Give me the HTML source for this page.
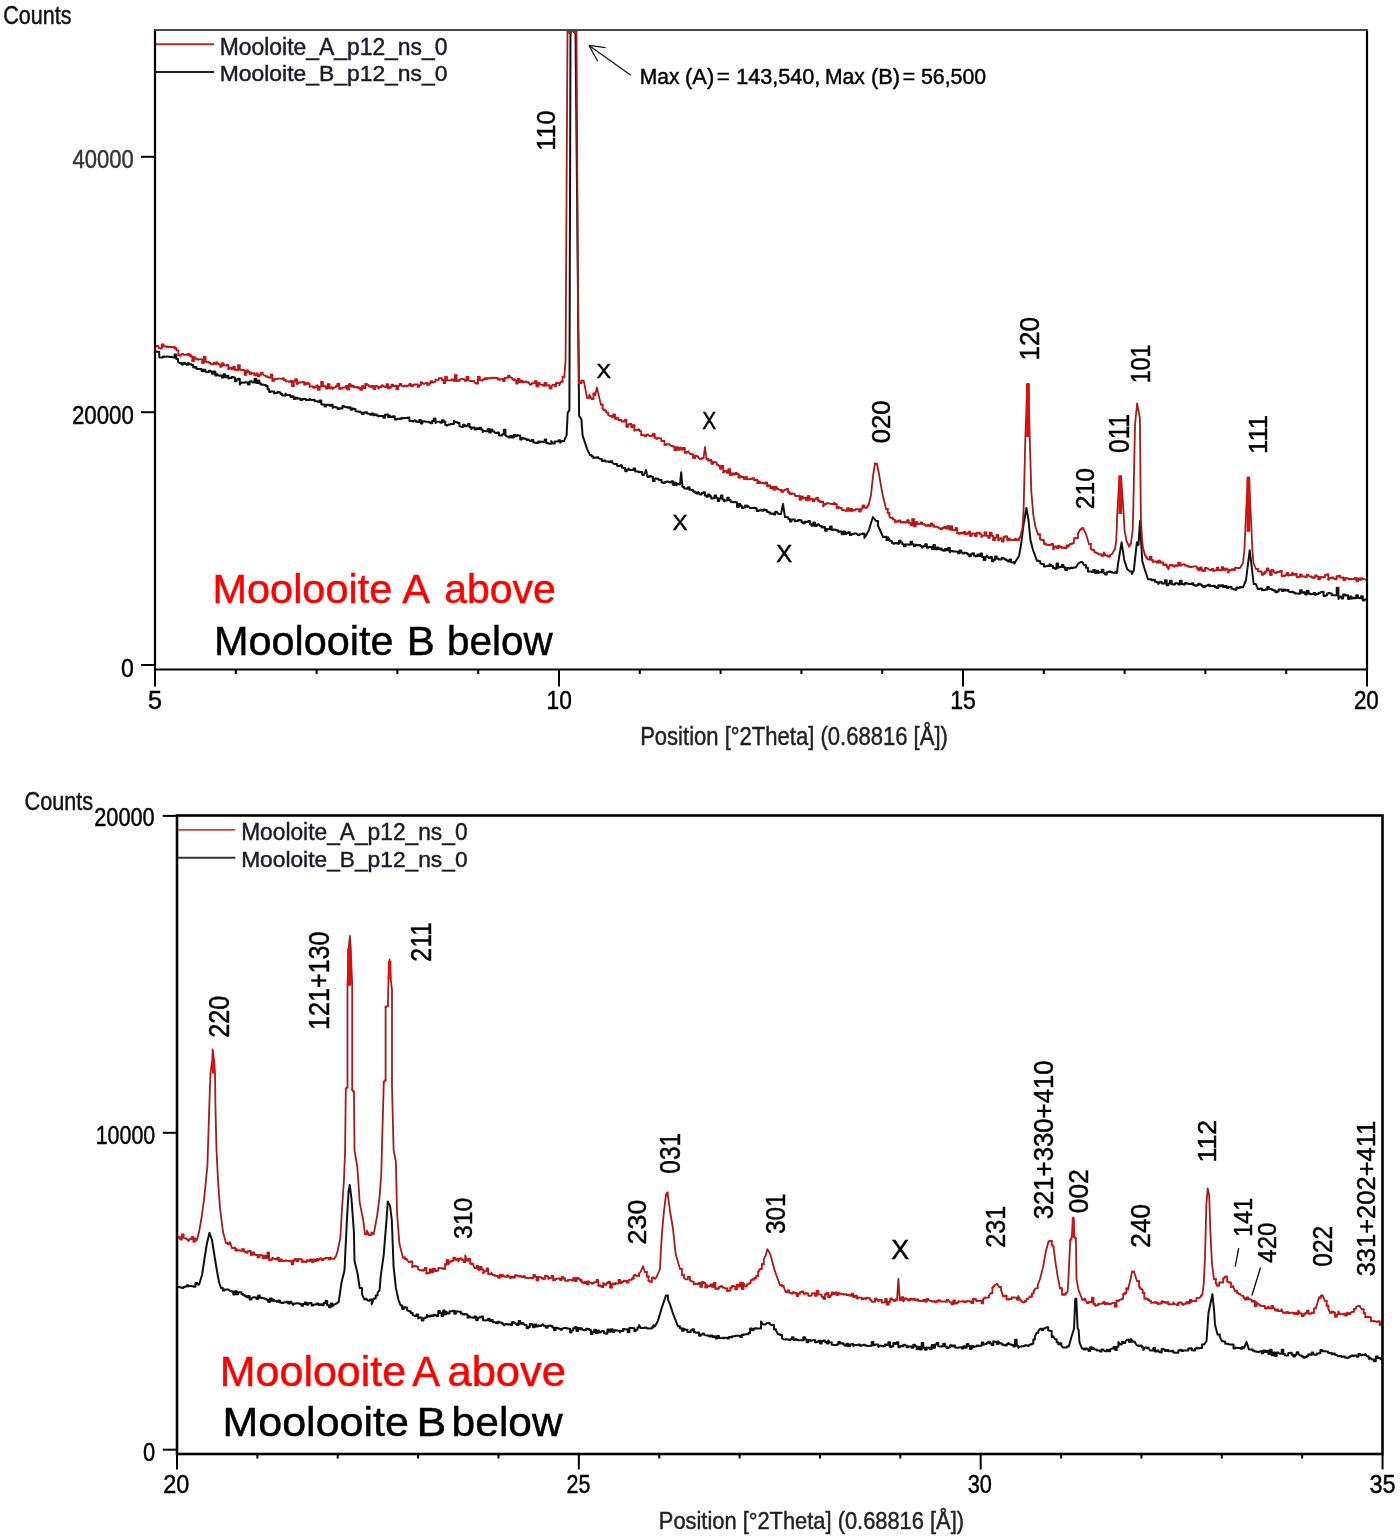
<!DOCTYPE html>
<html><head><meta charset="utf-8"><title>XRD Moolooite</title>
<style>html,body{margin:0;padding:0;background:#fff;width:1400px;height:1540px;overflow:hidden}svg{display:block}</style>
</head><body>
<svg width="1400" height="1540" viewBox="0 0 1400 1540" font-family="'Liberation Sans', Arial, Helvetica, sans-serif">
<rect width="1400" height="1540" fill="#fff"/>
<polyline points="155.0,351.0 156.9,351.7 159.2,351.7 159.2,357.5 161.4,357.4 163.0,357.4 163.0,356.5 164.7,356.5 164.7,356.8 166.3,356.8 166.3,356.4 168.0,356.4 168.0,356.7 169.6,356.7 169.6,357.0 171.3,357.0 171.3,356.6 172.9,357.4 174.6,357.4 174.6,354.4 176.3,354.4 176.3,359.1 178.0,359.1 178.0,362.0 179.7,363.1 181.4,363.1 181.4,364.5 183.1,364.5 183.1,362.7 184.8,362.7 184.8,364.1 186.6,364.1 186.6,364.8 188.3,364.8 188.3,362.8 190.0,364.3 191.6,364.3 191.6,365.1 193.2,365.1 193.2,367.6 194.8,367.6 194.8,367.0 196.4,367.0 196.4,369.1 198.0,368.9 199.8,368.9 199.8,368.9 201.6,368.9 201.6,371.2 203.5,371.2 203.5,369.8 205.3,369.8 205.3,371.5 207.1,372.3 208.7,372.3 208.7,370.8 210.4,370.8 210.4,371.6 212.0,371.6 212.0,373.8 213.7,373.8 213.7,371.4 215.3,371.4 215.3,375.6 217.0,375.6 217.0,373.8 218.6,375.7 220.2,375.7 220.2,375.5 221.9,375.5 221.9,377.4 223.5,377.4 223.5,374.3 225.1,374.3 225.1,377.2 226.7,377.2 226.7,375.8 228.4,375.8 228.4,378.5 230.0,378.0 231.6,378.0 231.6,377.1 233.3,377.1 233.3,377.5 234.9,377.5 234.9,381.2 236.5,381.2 236.5,379.5 238.1,379.5 238.1,378.7 239.8,378.7 239.8,384.5 241.4,382.6 243.0,382.6 243.0,382.7 244.7,382.7 244.7,382.2 246.3,382.2 246.3,382.4 248.0,382.4 248.0,384.6 249.6,384.6 249.6,381.4 251.3,381.4 251.3,381.0 252.9,382.6 254.5,382.6 254.5,378.7 256.2,378.7 256.2,383.0 257.8,383.0 257.8,380.5 259.4,380.5 259.4,383.4 261.0,383.4 261.0,384.8 262.7,384.8 262.7,384.5 264.3,384.9 265.9,384.9 265.9,386.0 267.6,386.0 267.6,389.2 269.2,389.2 269.2,392.0 270.8,392.0 270.8,391.4 272.4,391.4 272.4,391.4 274.1,391.4 274.1,393.6 275.7,392.9 277.3,392.9 277.3,391.9 279.0,391.9 279.0,392.6 280.6,392.6 280.6,394.0 282.2,394.0 282.2,395.4 283.8,395.4 283.8,395.4 285.5,395.4 285.5,393.6 287.1,395.1 288.7,395.1 288.7,394.9 290.4,394.9 290.4,397.1 292.0,397.1 292.0,396.3 293.7,396.3 293.7,398.9 295.3,398.9 295.3,397.7 297.0,397.7 297.0,398.8 298.6,398.6 300.4,398.6 300.4,400.1 302.3,400.1 302.3,398.9 304.1,398.9 304.1,398.9 305.9,398.9 305.9,399.9 307.7,399.9 307.7,399.9 309.6,399.9 309.6,398.9 311.4,400.0 313.0,400.0 313.0,399.7 314.7,399.7 314.7,401.3 316.3,401.3 316.3,401.2 318.0,401.2 318.0,402.0 319.6,402.0 319.6,400.6 321.3,400.6 321.3,404.3 322.9,404.6 324.5,404.6 324.5,406.6 326.2,406.6 326.2,404.7 327.8,404.7 327.8,404.8 329.4,404.8 329.4,405.7 331.0,405.7 331.0,404.8 332.7,404.8 332.7,407.9 334.3,406.9 335.9,406.9 335.9,407.4 337.6,407.4 337.6,409.0 339.2,409.0 339.2,408.3 340.8,408.3 340.8,408.6 342.4,408.6 342.4,406.0 344.1,406.0 344.1,406.7 345.7,406.9 347.3,406.9 347.3,407.7 349.0,407.7 349.0,407.3 350.6,407.3 350.6,409.7 352.2,409.7 352.2,408.5 353.8,408.5 353.8,408.9 355.5,408.9 355.5,411.1 357.1,411.4 358.7,411.4 358.7,411.7 360.4,411.7 360.4,412.4 362.0,412.4 362.0,414.0 363.7,414.0 363.7,412.6 365.3,412.6 365.3,412.3 367.0,412.3 367.0,413.4 368.6,413.7 370.2,413.7 370.2,414.7 371.9,414.7 371.9,413.6 373.5,413.6 373.5,415.3 375.1,415.3 375.1,414.6 376.7,414.6 376.7,415.4 378.4,415.4 378.4,416.4 380.0,416.0 381.6,416.0 381.6,416.0 383.3,416.0 383.3,417.8 384.9,417.8 384.9,414.8 386.5,414.8 386.5,414.5 388.1,414.5 388.1,416.9 389.8,416.9 389.8,415.5 391.4,417.1 393.0,417.1 393.0,416.3 394.7,416.3 394.7,419.4 396.3,419.4 396.3,419.1 398.0,419.1 398.0,418.8 399.6,418.8 399.6,419.1 401.3,419.1 401.3,417.7 402.9,418.3 404.5,418.3 404.5,418.0 406.2,418.0 406.2,418.0 407.8,418.0 407.8,417.5 409.4,417.5 409.4,420.9 411.0,420.9 411.0,421.1 412.7,421.1 412.7,421.6 414.3,420.6 415.9,420.6 415.9,421.7 417.6,421.7 417.6,422.1 419.2,422.1 419.2,420.1 420.8,420.1 420.8,423.6 422.4,423.6 422.4,421.3 424.1,421.3 424.1,421.2 425.7,421.7 427.3,421.7 427.3,421.8 429.0,421.8 429.0,422.4 430.6,422.4 430.6,423.2 432.2,423.2 432.2,420.9 433.8,420.9 433.8,418.6 435.5,418.6 435.5,422.9 437.1,421.7 438.7,421.7 438.7,421.8 440.4,421.8 440.4,422.7 442.0,422.7 442.0,420.3 443.7,420.3 443.7,421.7 445.3,421.7 445.3,424.9 447.0,424.9 447.0,425.7 448.6,424.6 450.4,424.6 450.4,424.1 452.1,424.1 452.1,423.9 453.9,423.9 453.9,420.8 455.7,422.3 457.6,422.3 457.6,423.1 459.5,423.1 459.5,426.0 461.4,426.9 463.0,426.9 463.0,424.7 464.7,424.7 464.7,426.2 466.3,426.2 466.3,425.7 468.0,425.7 468.0,424.0 469.6,424.0 469.6,427.2 471.3,427.2 471.3,429.1 472.9,427.4 474.5,427.4 474.5,429.4 476.2,429.4 476.2,428.3 477.8,428.3 477.8,428.9 479.4,428.9 479.4,427.8 481.0,427.8 481.0,429.4 482.7,429.4 482.7,432.0 484.3,430.9 485.9,430.9 485.9,431.2 487.6,431.2 487.6,429.1 489.2,429.1 489.2,432.5 490.8,432.5 490.8,429.5 492.4,429.5 492.4,431.3 494.1,431.3 494.1,431.9 495.7,433.1 497.3,433.1 497.3,432.5 499.0,432.5 499.0,435.4 500.6,435.4 500.6,435.4 502.2,435.4 502.2,434.2 503.8,434.2 503.8,429.7 505.5,429.7 505.5,435.4 507.1,436.6 508.7,436.6 508.7,437.6 510.4,437.6 510.4,435.9 512.0,435.9 512.0,437.5 513.7,437.5 513.7,435.1 515.3,435.1 515.3,436.2 517.0,436.2 517.0,434.9 518.6,435.4 520.2,435.4 520.2,439.5 521.9,439.5 521.9,437.9 523.5,437.9 523.5,438.5 525.1,438.5 525.1,438.9 526.7,438.9 526.7,440.1 528.4,440.1 528.4,439.5 530.0,441.1 531.6,441.1 531.6,440.1 533.3,440.1 533.3,442.5 534.9,442.5 534.9,442.8 536.5,442.8 536.5,443.1 538.1,443.1 538.1,441.4 539.8,441.4 539.8,442.4 541.4,441.7 543.0,441.7 543.0,442.0 544.7,442.0 544.7,439.5 546.3,439.5 546.3,443.1 548.0,443.1 548.0,443.5 549.6,443.5 549.6,443.7 551.3,443.7 551.3,441.0 552.9,443.4 554.7,443.4 554.7,441.4 556.5,441.4 556.5,441.5 558.4,441.5 558.4,440.3 560.2,440.3 560.2,442.8 562.0,441.1 564.3,441.1 564.3,440.4 566.6,435.4 567.7,412.6 569.4,410.3 570.5,31.0 572.2,31.0 572.2,30.6 573.8,30.6 573.8,32.1 575.5,31.0 578.6,360.0 579.1,416.0 581.4,419.4 582.6,435.4 587.1,449.1 590.0,455.0 591.7,455.0 591.7,456.4 593.3,456.4 593.3,458.0 595.0,457.7 596.7,457.7 596.7,457.3 598.3,457.3 598.3,458.0 600.0,459.0 601.8,459.0 601.8,460.9 603.5,460.9 603.5,460.5 605.2,460.5 605.2,461.4 607.0,461.4 607.0,461.4 608.8,461.4 608.8,462.0 610.5,462.0 610.5,461.3 612.2,461.3 612.2,462.4 614.0,464.0 615.6,464.0 615.6,464.0 617.2,464.0 617.2,465.9 618.8,465.9 618.8,466.1 620.4,466.1 620.4,465.2 622.0,465.2 622.0,467.8 623.6,467.8 623.6,468.1 625.2,468.1 625.2,471.3 626.8,471.3 626.8,469.8 628.4,469.8 628.4,468.4 630.0,470.0 631.8,470.0 631.8,470.0 633.5,470.0 633.5,468.6 635.2,468.6 635.2,471.5 637.0,471.5 637.0,471.4 638.8,471.4 638.8,472.2 640.5,472.2 640.5,471.9 642.2,471.9 642.2,474.7 644.0,475.0 646.0,470.0 647.5,477.0 649.3,477.0 649.3,475.9 651.1,475.9 651.1,476.8 652.9,476.8 652.9,480.9 654.6,480.9 654.6,478.5 656.4,478.5 656.4,478.7 658.2,478.7 658.2,479.5 660.0,480.0 661.6,480.0 661.6,482.6 663.3,482.6 663.3,483.1 664.9,483.1 664.9,482.1 666.5,482.1 666.5,481.6 668.2,481.6 668.2,481.9 669.8,481.9 669.8,482.5 671.5,482.5 671.5,481.2 673.1,481.2 673.1,485.1 674.7,485.1 674.7,482.8 676.4,482.8 676.4,485.2 678.0,484.0 680.0,484.5 681.2,472.3 682.5,487.0 684.2,487.0 684.2,488.6 686.0,488.6 686.0,488.8 687.8,488.8 687.8,487.2 689.5,487.2 689.5,489.7 691.2,489.7 691.2,490.0 693.0,490.0 693.0,491.5 694.8,491.5 694.8,492.4 696.5,492.4 696.5,493.4 698.2,493.4 698.2,491.8 700.0,494.5 701.6,494.5 701.6,493.0 703.2,493.0 703.2,492.2 704.8,492.2 704.8,495.5 706.4,495.5 706.4,496.8 708.0,496.8 708.0,494.6 709.6,494.6 709.6,496.3 711.2,496.3 711.2,498.5 712.9,498.5 712.9,498.2 714.5,498.2 714.5,495.5 716.1,495.5 716.1,497.7 717.7,497.7 717.7,500.9 719.3,500.9 719.3,498.4 720.9,498.4 720.9,495.4 722.5,495.4 722.5,499.6 724.1,499.6 724.1,501.5 725.7,500.5 727.3,500.5 727.3,497.8 728.9,497.8 728.9,500.0 730.6,500.0 730.6,501.7 732.2,501.7 732.2,502.3 733.8,502.3 733.8,501.9 735.4,501.9 735.4,502.2 737.0,502.2 737.0,506.9 738.7,506.9 738.7,504.1 740.3,504.1 740.3,505.7 741.9,505.7 741.9,508.0 743.5,508.0 743.5,507.5 745.1,507.5 745.1,505.5 746.8,505.5 746.8,506.7 748.4,506.7 748.4,506.0 750.0,508.0 751.7,508.0 751.7,508.0 753.4,508.0 753.4,507.7 755.0,507.7 755.0,508.2 756.7,508.2 756.7,510.9 758.4,510.9 758.4,510.6 760.1,510.6 760.1,509.7 761.8,509.7 761.8,510.8 763.5,510.8 763.5,509.4 765.1,509.4 765.1,510.1 766.8,510.1 766.8,511.7 768.5,511.7 768.5,512.4 770.2,512.4 770.2,513.7 771.9,513.7 771.9,513.5 773.6,513.5 773.6,514.6 775.2,514.6 775.2,511.8 776.9,511.8 776.9,512.3 778.6,514.0 781.0,514.0 783.0,504.0 785.0,517.0 786.6,517.0 786.6,517.2 788.3,517.2 788.3,519.0 789.9,519.0 789.9,521.5 791.5,521.5 791.5,519.5 793.1,519.5 793.1,519.4 794.8,519.4 794.8,521.4 796.4,521.0 798.1,521.0 798.1,520.0 799.8,520.0 799.8,520.2 801.5,520.2 801.5,522.3 803.1,522.3 803.1,523.2 804.8,523.2 804.8,521.8 806.5,521.8 806.5,522.0 808.2,522.0 808.2,521.1 809.9,521.1 809.9,524.2 811.6,524.2 811.6,525.8 813.3,525.8 813.3,522.4 814.9,522.4 814.9,526.0 816.6,526.0 816.6,524.7 818.3,524.7 818.3,524.0 820.0,526.0 821.7,526.0 821.7,527.5 823.3,527.5 823.3,526.9 825.0,526.9 825.0,530.7 826.7,530.7 826.7,528.9 828.3,528.9 828.3,529.3 830.0,529.3 830.0,526.6 831.7,526.6 831.7,530.1 833.3,530.1 833.3,529.5 835.0,529.5 835.0,530.0 836.7,530.0 836.7,530.6 838.3,530.6 838.3,532.0 840.0,531.4 841.6,531.4 841.6,534.2 843.3,534.2 843.3,531.5 844.9,531.5 844.9,533.9 846.5,533.9 846.5,533.0 848.2,533.0 848.2,532.3 849.8,532.3 849.8,534.9 851.5,534.9 851.5,534.3 853.1,534.3 853.1,533.8 854.7,533.8 854.7,533.6 856.4,533.6 856.4,533.4 858.0,535.0 859.6,535.0 859.6,534.3 861.2,534.3 861.2,533.9 862.8,533.9 862.8,533.6 864.4,533.6 864.4,538.0 866.0,535.5 869.0,530.0 871.0,523.0 873.0,517.0 876.0,521.0 878.0,521.0 878.0,525.8 880.0,530.0 883.0,537.0 884.8,537.0 884.8,536.7 886.5,536.7 886.5,540.0 888.2,540.0 888.2,537.2 890.0,541.0 891.9,541.0 891.9,542.9 893.8,542.9 893.8,543.9 895.7,543.0 897.3,543.0 897.3,543.7 899.0,543.7 899.0,540.7 900.6,540.7 900.6,542.6 902.3,542.6 902.3,544.2 903.9,544.2 903.9,546.3 905.5,546.3 905.5,544.4 907.2,544.4 907.2,544.4 908.8,544.4 908.8,544.8 910.5,544.8 910.5,541.8 912.1,541.8 912.1,544.3 913.8,544.3 913.8,545.9 915.4,545.9 915.4,544.7 917.0,544.7 917.0,545.2 918.7,545.2 918.7,545.1 920.3,545.1 920.3,546.1 922.0,546.1 922.0,547.7 923.6,546.2 925.2,546.2 925.2,544.3 926.9,544.3 926.9,547.8 928.5,547.8 928.5,547.0 930.1,547.0 930.1,546.9 931.8,546.9 931.8,549.0 933.4,549.0 933.4,544.9 935.0,544.9 935.0,549.2 936.7,549.2 936.7,547.4 938.3,547.4 938.3,549.2 940.0,549.2 940.0,548.4 941.6,548.4 941.6,550.1 943.2,550.1 943.2,550.7 944.9,550.7 944.9,549.0 946.5,549.0 946.5,550.3 948.1,550.3 948.1,547.9 949.8,547.9 949.8,552.3 951.4,551.0 953.0,551.0 953.0,551.6 954.6,551.6 954.6,551.5 956.3,551.5 956.3,551.8 957.9,551.8 957.9,553.3 959.5,553.3 959.5,550.6 961.1,550.6 961.1,552.6 962.7,552.6 962.7,553.6 964.3,553.6 964.3,552.8 966.0,552.8 966.0,553.3 967.6,553.3 967.6,554.6 969.2,554.6 969.2,556.3 970.8,556.3 970.8,554.3 972.4,554.3 972.4,553.3 974.0,553.3 974.0,555.7 975.7,555.7 975.7,556.3 977.3,556.3 977.3,554.6 978.9,554.6 978.9,556.0 980.5,556.0 980.5,553.4 982.1,553.4 982.1,557.1 983.7,557.1 983.7,560.0 985.4,560.0 985.4,556.8 987.0,556.8 987.0,555.6 988.6,558.0 990.2,558.0 990.2,557.0 991.9,557.0 991.9,561.3 993.5,561.3 993.5,559.7 995.1,559.7 995.1,556.6 996.7,556.6 996.7,558.4 998.4,558.4 998.4,559.5 1000.0,559.5 1001.6,559.5 1001.6,557.9 1003.2,557.9 1003.2,558.4 1004.8,558.4 1004.8,559.6 1006.4,559.6 1006.4,560.5 1008.0,560.5 1008.0,561.5 1009.6,561.5 1009.6,559.4 1011.2,559.4 1011.2,562.6 1012.8,562.6 1012.8,562.2 1014.4,562.2 1014.4,563.4 1016.0,560.8 1019.0,556.0 1021.0,545.0 1023.5,525.0 1026.4,508.0 1028.5,520.0 1030.4,539.7 1033.0,550.0 1037.0,560.8 1038.7,560.8 1038.7,561.3 1040.3,561.3 1040.3,563.3 1042.0,564.0 1043.9,564.0 1043.9,566.5 1045.7,566.5 1045.7,566.2 1047.6,566.0 1049.4,566.0 1049.4,564.6 1051.1,564.6 1051.1,566.0 1052.9,566.0 1052.9,568.0 1054.7,568.0 1054.7,568.8 1056.5,568.8 1056.5,563.5 1058.2,563.5 1058.2,567.7 1060.0,567.0 1061.8,567.0 1061.8,565.0 1063.5,565.0 1063.5,567.3 1065.2,567.3 1065.2,569.9 1067.0,569.9 1067.0,568.0 1068.8,568.0 1068.8,568.5 1070.5,568.5 1070.5,567.8 1072.2,567.8 1072.2,568.3 1074.0,567.5 1076.0,567.5 1076.0,566.8 1078.0,564.0 1080.6,562.0 1082.3,562.0 1082.3,561.9 1084.0,565.0 1086.0,565.0 1086.0,567.8 1087.9,567.8 1087.9,571.4 1089.9,571.4 1091.6,571.4 1091.6,572.1 1093.3,572.1 1093.3,569.9 1095.0,569.9 1095.0,573.1 1096.6,573.1 1096.6,570.7 1098.3,570.7 1098.3,573.1 1100.0,572.3 1101.7,572.3 1101.7,569.7 1103.4,569.7 1103.4,573.1 1105.1,573.1 1105.1,574.4 1106.8,574.4 1106.8,572.2 1108.5,572.2 1108.5,571.4 1110.2,571.4 1110.2,572.1 1111.9,572.1 1111.9,572.4 1113.6,572.7 1115.3,572.7 1115.3,571.7 1117.0,573.0 1118.0,564.0 1121.6,542.3 1124.2,559.7 1127.2,569.3 1130.0,571.4 1131.9,571.4 1131.9,573.9 1133.8,570.5 1136.9,542.2 1138.5,545.0 1140.0,521.0 1141.3,545.0 1142.3,560.9 1144.7,569.3 1148.0,579.3 1149.7,579.3 1149.7,579.2 1151.4,579.2 1151.4,580.2 1153.1,580.2 1153.1,579.8 1154.9,579.8 1154.9,581.8 1156.6,581.8 1156.6,582.2 1158.3,582.2 1158.3,584.0 1160.0,582.0 1161.7,582.0 1161.7,583.6 1163.3,583.6 1163.3,583.5 1165.0,583.5 1165.0,580.3 1166.7,580.3 1166.7,585.2 1168.3,585.2 1168.3,583.6 1170.0,583.6 1170.0,580.7 1171.7,580.7 1171.7,584.3 1173.3,584.3 1173.3,584.6 1175.0,584.6 1175.0,583.2 1176.7,583.2 1176.7,583.3 1178.3,583.3 1178.3,584.5 1180.0,584.5 1180.0,580.7 1181.7,580.7 1181.7,584.1 1183.3,584.1 1183.3,584.5 1185.0,584.5 1185.0,583.1 1186.7,583.1 1186.7,583.6 1188.3,583.6 1188.3,584.1 1190.0,584.0 1191.6,584.0 1191.6,583.2 1193.3,583.2 1193.3,584.9 1194.9,584.9 1194.9,585.8 1196.6,585.8 1196.6,585.2 1198.2,585.2 1198.2,583.7 1199.9,583.7 1199.9,584.4 1201.5,584.4 1201.5,585.8 1203.2,585.8 1203.2,587.3 1204.8,587.3 1204.8,585.9 1206.5,585.9 1206.5,585.6 1208.1,585.6 1208.1,584.7 1209.8,584.7 1209.8,586.3 1211.4,586.0 1213.1,586.0 1213.1,585.8 1214.8,585.8 1214.8,587.1 1216.5,587.1 1216.5,588.1 1218.2,588.1 1218.2,585.2 1219.9,585.2 1219.9,586.2 1221.5,586.2 1221.5,585.2 1223.2,585.2 1223.2,587.0 1224.9,587.0 1224.9,586.0 1226.6,586.0 1226.6,588.0 1228.3,588.0 1228.3,586.8 1230.0,587.0 1231.6,587.0 1231.6,588.8 1233.2,588.8 1233.2,589.3 1234.9,589.3 1234.9,589.8 1236.5,589.8 1236.5,587.5 1238.1,587.5 1238.1,587.9 1239.8,587.9 1239.8,587.1 1241.4,587.1 1241.4,587.3 1243.0,587.3 1246.0,580.0 1247.5,568.0 1249.7,550.3 1251.5,565.0 1253.7,584.0 1255.8,584.0 1255.8,584.2 1258.0,589.0 1260.0,589.0 1260.0,588.6 1262.0,588.6 1262.0,590.2 1264.0,590.0 1265.6,590.0 1265.6,589.4 1267.2,589.4 1267.2,587.0 1268.9,587.0 1268.9,588.9 1270.5,588.9 1270.5,589.0 1272.1,589.0 1272.1,590.0 1273.8,590.0 1273.8,590.4 1275.4,590.4 1275.4,592.2 1277.0,592.2 1277.0,591.4 1278.6,591.4 1278.6,589.6 1280.2,589.6 1280.2,589.5 1281.9,589.5 1281.9,590.9 1283.5,590.9 1283.5,589.6 1285.1,589.6 1285.1,590.5 1286.8,590.5 1286.8,590.1 1288.4,590.1 1288.4,591.4 1290.0,592.0 1291.7,592.0 1291.7,591.7 1293.4,591.7 1293.4,592.7 1295.1,592.7 1295.1,593.5 1296.8,593.5 1296.8,593.6 1298.4,593.6 1298.4,593.7 1300.1,593.7 1300.1,590.2 1301.8,590.2 1301.8,592.8 1303.5,592.8 1303.5,592.3 1305.2,592.3 1305.2,594.5 1306.9,594.5 1306.9,590.8 1308.6,590.8 1308.6,593.4 1310.2,593.4 1310.2,594.2 1311.9,594.2 1311.9,594.1 1313.6,594.1 1313.6,593.0 1315.3,593.0 1315.3,595.2 1317.0,593.9 1318.6,593.9 1318.6,593.0 1320.3,593.0 1320.3,592.2 1321.9,592.2 1321.9,591.7 1323.6,591.7 1323.6,596.1 1325.2,596.1 1325.2,595.4 1326.9,595.4 1326.9,593.5 1328.5,593.5 1328.5,593.0 1330.1,593.0 1330.1,593.4 1331.8,593.4 1331.8,595.2 1333.4,595.2 1333.4,595.3 1335.1,595.3 1335.1,595.2 1336.7,595.2 1336.7,587.8 1338.4,587.8 1338.4,599.0 1340.0,596.5 1341.6,596.5 1341.6,598.4 1343.2,598.4 1343.2,594.4 1344.9,594.4 1344.9,595.6 1346.5,595.6 1346.5,595.2 1348.1,595.2 1348.1,598.9 1349.8,598.9 1349.8,596.4 1351.4,596.4 1351.4,598.5 1353.0,598.5 1353.0,597.8 1354.6,597.8 1354.6,598.2 1356.2,598.2 1356.2,595.2 1357.9,595.2 1357.9,598.0 1359.5,598.0 1359.5,598.2 1361.1,598.2 1361.1,596.3 1362.8,596.3 1362.8,600.6 1364.4,600.6 1364.4,599.8 1366.0,599.0" fill="none" stroke="#111" stroke-width="2.0" stroke-linejoin="round" />
<polyline points="155.0,346.0 156.9,346.0 158.5,346.0 158.5,348.1 160.1,348.1 160.1,348.5 161.8,348.5 161.8,344.6 163.4,344.6 163.4,346.4 165.0,346.5 167.0,346.5 167.0,347.0 168.9,347.0 168.9,347.0 170.9,347.0 170.9,347.0 172.9,347.1 174.7,347.1 174.7,348.4 176.5,348.4 176.5,350.4 178.4,350.4 178.4,355.0 180.2,355.0 180.2,355.8 182.0,354.0 183.7,354.0 183.7,354.8 185.4,354.8 185.4,354.9 187.1,354.9 187.1,353.8 188.8,353.8 188.8,354.9 190.6,354.9 190.6,356.4 192.3,356.4 192.3,360.9 194.0,360.9 194.0,357.0 195.7,358.6 197.3,358.6 197.3,359.7 199.0,359.7 199.0,359.2 200.6,359.2 200.6,359.3 202.2,359.3 202.2,363.0 203.8,363.0 203.8,357.0 205.5,357.0 205.5,361.5 207.1,362.0 208.7,362.0 208.7,362.8 210.4,362.8 210.4,363.8 212.0,363.8 212.0,364.4 213.7,364.4 213.7,362.7 215.3,362.7 215.3,363.6 217.0,363.6 217.0,362.4 218.6,364.3 220.2,364.3 220.2,366.8 221.9,366.8 221.9,363.5 223.5,363.5 223.5,365.4 225.1,365.4 225.1,365.6 226.7,365.6 226.7,365.0 228.4,365.0 228.4,369.1 230.0,367.7 231.6,367.7 231.6,369.3 233.3,369.3 233.3,366.6 234.9,366.6 234.9,369.7 236.5,369.7 236.5,370.0 238.1,370.0 238.1,365.5 239.8,365.5 239.8,369.3 241.4,370.0 243.0,370.0 243.0,370.2 244.7,370.2 244.7,374.6 246.3,374.6 246.3,370.6 248.0,370.6 248.0,371.9 249.6,371.9 249.6,374.1 251.3,374.1 251.3,372.4 252.9,373.4 254.5,373.4 254.5,375.2 256.2,375.2 256.2,373.5 257.8,373.5 257.8,376.3 259.4,376.3 259.4,374.7 261.0,374.7 261.0,372.8 262.7,372.8 262.7,373.7 264.3,375.7 265.9,375.7 265.9,376.5 267.6,376.5 267.6,377.3 269.2,377.3 269.2,377.5 270.8,377.5 270.8,374.4 272.4,374.4 272.4,380.7 274.1,380.7 274.1,378.9 275.7,379.1 277.3,379.1 277.3,378.7 279.0,378.7 279.0,378.7 280.6,378.7 280.6,378.8 282.2,378.8 282.2,378.5 283.8,378.5 283.8,380.0 285.5,380.0 285.5,381.1 287.1,381.4 288.7,381.4 288.7,381.9 290.4,381.9 290.4,380.6 292.0,380.6 292.0,385.9 293.7,385.9 293.7,381.5 295.3,381.5 295.3,379.1 297.0,379.1 297.0,384.0 298.6,382.6 300.4,382.6 300.4,382.3 302.3,382.3 302.3,381.9 304.1,381.9 304.1,384.7 305.9,384.7 305.9,382.9 307.7,382.9 307.7,383.6 309.6,383.6 309.6,387.0 311.4,386.3 313.0,386.3 313.0,387.6 314.7,387.6 314.7,386.9 316.3,386.9 316.3,385.5 317.9,385.5 317.9,389.5 319.6,389.5 319.6,386.6 321.2,386.6 321.2,382.1 322.9,382.1 322.9,385.9 324.5,385.9 324.5,386.3 326.1,386.3 326.1,388.5 327.8,388.5 327.8,384.3 329.4,384.3 329.4,388.2 331.0,388.2 331.0,387.5 332.7,387.5 332.7,389.0 334.3,387.4 335.9,387.4 335.9,386.1 337.6,386.1 337.6,383.8 339.2,383.8 339.2,388.6 340.8,388.6 340.8,388.4 342.4,388.4 342.4,387.5 344.1,387.5 344.1,387.7 345.7,387.7 345.7,386.0 347.3,386.0 347.3,389.3 349.0,389.3 349.0,384.3 350.6,384.3 350.6,386.7 352.2,386.7 352.2,385.7 353.8,385.7 353.8,387.3 355.5,387.3 355.5,386.8 357.1,387.4 358.7,387.4 358.7,388.0 360.4,388.0 360.4,389.9 362.0,389.9 362.0,386.3 363.6,386.3 363.6,388.3 365.3,388.3 365.3,384.1 366.9,384.1 366.9,384.8 368.6,384.8 368.6,386.2 370.2,386.2 370.2,386.9 371.8,386.9 371.8,385.9 373.5,385.9 373.5,388.9 375.1,388.9 375.1,386.0 376.7,386.0 376.7,386.5 378.4,386.5 378.4,388.5 380.0,386.9 381.6,386.9 381.6,385.6 383.3,385.6 383.3,386.3 384.9,386.3 384.9,387.1 386.5,387.1 386.5,384.2 388.2,384.2 388.2,388.2 389.8,388.2 389.8,387.1 391.4,387.1 391.4,384.6 393.1,384.6 393.1,386.2 394.7,386.2 394.7,385.7 396.4,385.7 396.4,389.2 398.0,389.2 398.0,385.8 399.6,385.8 399.6,384.0 401.3,384.0 401.3,385.6 402.9,386.3 404.5,386.3 404.5,385.9 406.2,385.9 406.2,386.1 407.8,386.1 407.8,385.4 409.4,385.4 409.4,384.0 411.0,384.0 411.0,386.3 412.7,386.3 412.7,385.4 414.3,384.6 415.9,384.6 415.9,384.4 417.6,384.4 417.6,386.9 419.2,386.9 419.2,385.1 420.8,385.1 420.8,382.3 422.4,382.3 422.4,383.7 424.1,383.7 424.1,384.1 425.7,382.9 427.3,382.9 427.3,384.7 429.0,384.7 429.0,383.5 430.6,383.5 430.6,381.1 432.2,381.1 432.2,382.6 433.8,382.6 433.8,381.9 435.5,381.9 435.5,379.6 437.1,380.0 438.7,380.0 438.7,378.2 440.3,378.2 440.3,378.2 441.9,378.2 441.9,379.8 443.6,379.8 443.6,383.2 445.2,383.2 445.2,377.1 446.8,377.1 446.8,380.4 448.4,380.4 448.4,380.4 450.0,380.3 451.6,380.3 451.6,379.5 453.3,379.5 453.3,380.6 454.9,380.6 454.9,375.2 456.5,375.2 456.5,381.0 458.1,381.0 458.1,380.5 459.8,380.5 459.8,379.8 461.4,378.9 463.1,378.9 463.1,379.4 464.8,379.4 464.8,380.9 466.6,380.9 466.6,377.0 468.3,377.0 468.3,380.2 470.0,381.0 472.1,381.0 472.1,380.9 474.2,380.9 474.2,382.1 476.3,383.4 477.9,383.4 477.9,377.0 479.6,377.0 479.6,380.1 481.2,380.1 481.2,380.6 482.8,380.6 482.8,379.4 484.4,379.4 484.4,378.4 486.1,378.4 486.1,379.3 487.7,378.3 489.4,378.3 489.4,378.3 491.1,378.3 491.1,377.7 492.8,377.7 492.8,378.1 494.5,378.1 494.5,377.7 496.3,377.7 496.3,378.3 498.0,378.3 498.0,379.3 499.7,379.3 499.7,380.0 501.4,378.9 503.0,378.9 503.0,381.0 504.7,381.0 504.7,378.1 506.3,378.1 506.3,377.6 508.0,377.6 508.0,375.6 509.6,375.6 509.6,377.3 511.3,377.3 511.3,377.7 512.9,379.4 514.5,379.4 514.5,380.4 516.2,380.4 516.2,383.5 517.8,383.5 517.8,379.1 519.4,379.1 519.4,382.1 521.0,382.1 521.0,380.6 522.7,380.6 522.7,382.6 524.3,381.7 526.2,381.7 526.2,382.1 528.1,382.1 528.1,382.0 530.0,384.6 531.6,384.6 531.6,383.1 533.3,383.1 533.3,383.4 534.9,383.4 534.9,381.3 536.5,381.3 536.5,386.3 538.1,386.3 538.1,383.0 539.8,383.0 539.8,384.6 541.4,384.6 543.0,384.6 543.0,385.7 544.7,385.7 544.7,383.0 546.3,383.0 546.3,385.6 548.0,385.6 548.0,385.2 549.6,385.2 549.6,388.3 551.3,388.3 551.3,386.7 552.9,384.6 554.5,384.6 554.5,386.3 556.1,386.3 556.1,382.9 557.7,382.9 557.7,383.0 559.3,383.0 559.3,385.3 560.9,381.7 562.6,381.7 562.6,376.7 564.3,377.1 565.6,360.0 567.5,31.0 569.3,31.0 569.3,33.1 571.1,33.1 571.1,29.9 572.9,29.9 572.9,31.1 574.7,31.1 574.7,32.9 576.5,31.0 578.2,330.0 579.1,382.9 581.4,382.9 581.4,380.5 583.7,380.6 587.1,397.7 589.4,397.7 589.4,394.6 591.7,398.9 593.4,398.9 593.4,393.6 595.2,393.6 595.2,395.3 596.9,387.4 600.9,404.6 602.6,404.6 602.6,408.3 604.3,410.3 606.2,410.3 606.2,412.6 608.1,412.6 608.1,414.9 610.0,416.0 611.7,416.0 611.7,416.8 613.3,416.8 613.3,414.4 615.0,414.4 615.0,418.6 616.7,418.6 616.7,417.9 618.3,417.9 618.3,420.1 620.0,420.0 621.6,420.0 621.6,421.7 623.2,421.7 623.2,421.3 624.8,421.3 624.8,419.9 626.4,419.9 626.4,426.6 628.0,426.6 628.0,424.4 629.6,424.4 629.6,424.0 631.2,424.0 631.2,427.0 632.8,427.0 632.8,425.3 634.4,425.3 634.4,430.5 636.0,430.0 637.8,430.0 637.8,429.4 639.5,429.4 639.5,431.2 641.2,431.2 641.2,434.9 643.0,434.9 643.0,435.3 644.8,435.3 644.8,436.0 646.5,436.0 646.5,434.4 648.2,434.4 648.2,435.1 650.0,436.0 651.6,436.0 651.6,435.7 653.2,435.7 653.2,433.9 654.8,433.9 654.8,437.9 656.5,437.9 656.5,438.6 658.1,438.6 658.1,438.2 659.7,438.2 659.7,438.3 661.3,438.3 661.3,441.0 662.9,441.0 662.9,441.0 664.5,441.0 664.5,444.8 666.2,444.8 666.2,444.3 667.8,444.3 667.8,444.3 669.4,444.3 669.4,444.0 671.0,446.0 672.7,446.0 672.7,446.5 674.5,446.5 674.5,450.0 676.2,450.0 676.2,447.1 677.9,447.1 677.9,449.8 679.6,449.8 679.6,447.7 681.4,447.7 681.4,449.5 683.1,449.5 683.1,448.0 684.8,448.0 684.8,452.7 686.5,452.7 686.5,452.1 688.3,452.1 688.3,451.2 690.0,454.0 691.7,454.0 691.7,454.5 693.3,454.5 693.3,457.9 695.0,457.9 695.0,455.7 696.7,455.7 696.7,456.5 698.3,456.5 698.3,457.5 700.0,459.0 701.8,459.0 701.8,458.4 703.5,458.0 705.0,447.0 706.5,459.0 708.2,459.0 708.2,460.7 709.9,460.7 709.9,459.9 711.5,459.9 711.5,463.6 713.2,463.6 713.2,462.0 714.9,462.0 714.9,462.4 716.6,462.4 716.6,464.7 718.3,464.7 718.3,465.9 720.0,465.9 720.0,468.5 721.6,468.5 721.6,465.8 723.3,465.8 723.3,472.3 725.0,471.0 726.7,471.0 726.7,472.9 728.4,472.9 728.4,469.3 730.1,469.3 730.1,474.9 731.8,474.9 731.8,473.3 733.5,473.3 733.5,474.6 735.2,474.6 735.2,472.8 736.9,472.8 736.9,474.2 738.6,474.2 738.6,477.4 740.3,477.4 740.3,475.8 742.0,477.0 743.7,477.0 743.7,478.9 745.4,478.9 745.4,477.1 747.1,477.1 747.1,479.4 748.8,479.4 748.8,479.1 750.5,479.1 750.5,479.0 752.2,479.0 752.2,478.2 753.9,478.2 753.9,480.1 755.6,480.1 755.6,479.7 757.3,479.7 757.3,483.2 759.0,483.2 759.0,481.4 760.7,483.0 762.3,483.0 762.3,482.9 763.9,482.9 763.9,483.5 765.5,483.5 765.5,482.3 767.1,482.3 767.1,486.1 768.7,486.1 768.7,485.5 770.4,485.5 770.4,488.4 772.0,488.4 772.0,487.0 773.6,487.0 773.6,489.5 775.2,489.5 775.2,486.8 776.8,486.8 776.8,489.0 778.4,489.0 778.4,489.2 780.0,490.0 781.6,490.0 781.6,491.6 783.3,491.6 783.3,490.3 784.9,490.3 784.9,489.6 786.6,489.6 786.6,489.0 788.2,489.0 788.2,492.5 789.8,492.5 789.8,494.1 791.5,494.1 791.5,493.4 793.1,493.4 793.1,493.9 794.8,493.9 794.8,495.8 796.4,496.0 798.0,496.0 798.0,495.8 799.6,495.8 799.6,499.5 801.3,499.5 801.3,496.4 802.9,496.4 802.9,498.4 804.5,498.4 804.5,497.7 806.1,497.7 806.1,500.1 807.8,500.1 807.8,496.2 809.4,496.2 809.4,499.7 811.0,499.0 812.8,499.0 812.8,501.2 814.5,501.2 814.5,499.1 816.2,499.1 816.2,498.0 818.0,498.0 818.0,500.7 819.8,500.7 819.8,502.1 821.5,502.1 821.5,501.6 823.2,501.6 823.2,506.0 825.0,504.0 826.7,504.0 826.7,503.1 828.3,503.1 828.3,503.4 830.0,503.4 830.0,503.8 831.7,503.8 831.7,504.1 833.3,504.1 833.3,503.4 835.0,503.4 835.0,504.3 836.7,504.3 836.7,508.0 838.3,508.0 838.3,507.0 840.0,508.0 841.8,508.0 841.8,510.0 843.5,510.0 843.5,510.4 845.2,510.4 845.2,510.8 847.0,510.8 847.0,508.5 848.8,508.5 848.8,510.8 850.5,510.8 850.5,508.8 852.2,508.8 852.2,511.0 854.0,510.0 855.7,510.0 855.7,509.1 857.4,509.1 857.4,509.1 859.1,509.1 859.1,511.6 860.9,511.6 860.9,508.7 862.6,508.7 862.6,505.3 864.3,505.3 864.3,507.5 866.0,508.0 868.6,505.0 871.0,495.0 873.0,476.0 875.0,463.5 877.0,464.0 879.0,474.0 881.0,486.0 883.0,496.0 886.0,509.0 887.7,509.0 887.7,512.8 889.3,512.8 889.3,516.3 891.0,518.0 893.0,518.0 893.0,519.7 895.0,519.7 895.0,522.0 897.0,521.4 898.7,521.4 898.7,520.5 900.4,520.5 900.4,522.6 902.1,522.6 902.1,522.0 903.8,522.0 903.8,522.4 905.4,522.4 905.4,522.3 907.1,522.3 907.1,520.2 908.8,520.2 908.8,522.9 910.5,522.9 910.5,525.1 912.2,525.1 912.2,519.3 913.9,519.3 913.9,526.2 915.6,526.2 915.6,522.2 917.3,522.2 917.3,524.1 918.9,524.1 918.9,523.9 920.6,523.9 920.6,522.5 922.3,522.5 922.3,524.2 924.0,524.2 924.0,524.2 925.7,525.7 927.4,525.7 927.4,525.0 929.0,525.0 929.0,526.0 930.7,526.0 930.7,523.3 932.4,523.3 932.4,525.4 934.0,525.4 934.0,526.9 935.7,526.9 935.7,526.7 937.4,526.7 937.4,527.4 939.0,527.4 939.0,528.5 940.7,528.5 940.7,529.1 942.3,529.1 942.3,528.1 944.0,528.1 944.0,526.8 945.7,526.8 945.7,528.6 947.3,528.6 947.3,526.2 949.0,526.2 949.0,529.5 950.7,529.5 950.7,526.2 952.3,526.2 952.3,529.9 954.0,530.0 955.6,530.0 955.6,528.0 957.2,528.0 957.2,533.2 958.8,533.2 958.8,533.6 960.4,533.6 960.4,532.6 962.1,532.6 962.1,533.5 963.7,533.5 963.7,532.0 965.3,532.0 965.3,534.1 966.9,534.1 966.9,533.5 968.5,533.5 968.5,531.6 970.1,531.6 970.1,535.8 971.7,535.8 971.7,533.4 973.3,533.4 973.3,533.6 974.9,533.6 974.9,536.1 976.6,536.1 976.6,532.8 978.2,532.8 978.2,533.0 979.8,533.0 979.8,534.2 981.4,534.2 981.4,537.0 983.0,535.7 984.7,535.7 984.7,532.5 986.4,532.5 986.4,535.8 988.1,535.8 988.1,537.8 989.8,537.8 989.8,532.8 991.5,532.8 991.5,535.8 993.2,535.8 993.2,539.9 994.9,539.9 994.9,537.6 996.6,537.6 996.6,534.9 998.3,534.9 998.3,540.3 1000.0,538.5 1001.8,538.5 1001.8,541.6 1003.7,541.6 1003.7,536.9 1005.5,536.9 1005.5,536.5 1007.3,536.5 1007.3,540.1 1009.2,540.1 1009.2,538.3 1011.0,540.0 1013.0,540.0 1013.0,540.2 1015.0,540.2 1015.0,538.4 1017.0,540.0 1018.8,540.0 1018.8,539.3 1020.5,536.0 1022.5,528.0 1023.6,510.0 1025.3,440.0 1027.3,384.0 1028.5,384.0 1029.8,440.0 1031.3,491.0 1033.3,515.0 1035.5,527.0 1038.0,534.4 1040.0,534.4 1040.0,539.1 1042.0,540.0 1043.9,540.0 1043.9,543.6 1045.7,543.6 1045.7,544.5 1047.6,545.0 1049.4,545.0 1049.4,544.9 1051.3,544.9 1051.3,544.0 1053.2,544.0 1053.2,549.1 1055.0,546.5 1056.6,546.5 1056.6,548.2 1058.2,548.2 1058.2,545.7 1059.8,545.7 1059.8,547.2 1061.4,547.2 1061.4,547.7 1063.0,547.6 1064.8,547.6 1064.8,548.2 1066.5,548.2 1066.5,545.3 1068.2,545.3 1068.2,546.7 1070.0,544.0 1072.0,544.0 1072.0,543.1 1074.0,543.1 1074.0,538.6 1076.0,538.0 1078.0,538.0 1078.0,533.7 1080.0,530.0 1083.0,527.8 1086.0,534.0 1089.0,544.0 1090.8,544.0 1090.8,548.6 1092.5,550.0 1094.4,550.0 1094.4,552.3 1096.2,552.3 1096.2,553.2 1098.1,553.2 1098.1,554.2 1100.0,554.5 1101.9,554.5 1101.9,555.7 1103.8,555.7 1103.8,552.3 1105.7,555.6 1107.8,555.6 1107.8,556.4 1109.9,556.4 1109.9,555.3 1112.0,554.0 1115.0,549.0 1116.3,540.0 1117.2,514.6 1119.5,476.3 1121.0,476.3 1123.6,513.0 1124.5,530.0 1126.5,541.0 1129.0,546.4 1131.0,543.0 1132.7,530.0 1133.3,509.0 1135.0,425.0 1137.1,403.5 1139.9,418.0 1140.4,470.0 1140.9,518.8 1142.0,538.0 1143.0,548.0 1145.0,555.0 1148.0,559.5 1149.8,559.5 1149.8,556.6 1151.5,556.6 1151.5,560.3 1153.2,560.3 1153.2,562.2 1155.0,561.5 1156.7,561.5 1156.7,562.8 1158.3,562.8 1158.3,560.7 1160.0,560.7 1160.0,562.5 1161.7,562.5 1161.7,562.6 1163.3,562.6 1163.3,565.2 1165.0,565.2 1165.0,564.4 1166.7,564.4 1166.7,566.8 1168.3,566.8 1168.3,569.3 1170.0,565.0 1171.7,565.0 1171.7,565.4 1173.3,565.4 1173.3,566.5 1175.0,566.5 1175.0,565.3 1176.7,565.3 1176.7,565.9 1178.3,565.9 1178.3,562.8 1180.0,562.8 1180.0,565.6 1181.7,565.6 1181.7,564.6 1183.3,564.6 1183.3,564.4 1185.0,564.4 1185.0,565.7 1186.7,565.7 1186.7,566.0 1188.3,566.0 1188.3,566.3 1190.0,567.0 1191.7,567.0 1191.7,566.8 1193.3,566.8 1193.3,566.3 1195.0,566.3 1195.0,566.4 1196.7,566.4 1196.7,568.3 1198.3,568.3 1198.3,570.0 1200.0,570.0 1200.0,567.5 1201.7,567.5 1201.7,570.5 1203.3,570.5 1203.3,571.0 1205.0,571.0 1205.0,568.0 1206.7,568.0 1206.7,568.3 1208.3,568.3 1208.3,569.4 1210.0,570.0 1211.7,570.0 1211.7,568.9 1213.3,568.9 1213.3,570.9 1215.0,570.9 1215.0,570.3 1216.7,570.3 1216.7,567.7 1218.3,567.7 1218.3,570.0 1220.0,570.0 1220.0,570.4 1221.7,570.4 1221.7,567.1 1223.3,567.1 1223.3,569.9 1225.0,569.9 1225.0,568.7 1226.7,568.7 1226.7,569.7 1228.3,569.7 1228.3,572.5 1230.0,570.0 1231.7,570.0 1231.7,569.2 1233.3,569.2 1233.3,570.0 1235.0,570.0 1235.0,567.7 1236.7,567.7 1236.7,568.0 1238.3,568.0 1238.3,568.0 1240.0,568.0 1243.0,563.0 1244.4,550.0 1245.2,532.0 1247.8,477.6 1249.0,477.6 1251.6,532.0 1252.4,550.0 1253.5,563.0 1256.0,569.0 1258.0,569.0 1258.0,571.4 1260.0,571.5 1261.7,571.5 1261.7,574.8 1263.3,574.8 1263.3,573.5 1265.0,573.5 1265.0,571.8 1266.7,571.8 1266.7,568.4 1268.3,568.4 1268.3,570.6 1270.0,570.6 1270.0,574.8 1271.7,574.8 1271.7,570.2 1273.3,570.2 1273.3,570.9 1275.0,573.0 1276.7,573.0 1276.7,571.8 1278.3,571.8 1278.3,572.1 1280.0,572.1 1280.0,571.0 1281.7,571.0 1281.7,576.0 1283.3,576.0 1283.3,575.9 1285.0,575.9 1285.0,575.0 1286.7,575.0 1286.7,572.8 1288.3,572.8 1288.3,575.6 1290.0,575.0 1291.7,575.0 1291.7,573.4 1293.3,573.4 1293.3,574.9 1295.0,574.9 1295.0,573.8 1296.7,573.8 1296.7,577.1 1298.3,577.1 1298.3,577.0 1300.0,577.0 1300.0,574.3 1301.7,574.3 1301.7,576.3 1303.3,576.3 1303.3,576.5 1305.0,576.5 1305.0,577.0 1306.7,577.0 1306.7,574.7 1308.3,574.7 1308.3,575.5 1310.0,576.5 1311.7,576.5 1311.7,577.6 1313.3,577.6 1313.3,577.5 1315.0,577.5 1315.0,575.5 1316.7,575.5 1316.7,576.3 1318.3,576.3 1318.3,579.4 1320.0,579.4 1320.0,577.0 1321.7,577.0 1321.7,577.3 1323.3,577.3 1323.3,577.4 1325.0,577.4 1325.0,574.8 1326.7,574.8 1326.7,574.5 1328.3,574.5 1328.3,579.6 1330.0,578.0 1331.7,578.0 1331.7,577.3 1333.3,577.3 1333.3,578.7 1335.0,578.7 1335.0,579.3 1336.7,579.3 1336.7,576.5 1338.3,576.5 1338.3,575.8 1340.0,575.8 1340.0,577.6 1341.7,577.6 1341.7,577.5 1343.3,577.5 1343.3,580.1 1345.0,580.1 1345.0,578.2 1346.7,578.2 1346.7,578.3 1348.3,578.3 1348.3,579.3 1350.0,579.0 1351.6,579.0 1351.6,579.4 1353.2,579.4 1353.2,579.0 1354.8,579.0 1354.8,578.1 1356.4,578.1 1356.4,581.3 1358.0,581.3 1358.0,578.4 1359.6,578.4 1359.6,579.6 1361.2,579.6 1361.2,578.3 1362.8,578.3 1362.8,579.1 1364.4,579.1 1364.4,579.3 1366.0,580.0" fill="none" stroke="#a21c1c" stroke-width="1.8" stroke-linejoin="round" />
<path d="M155.0,346.0 L156.9,346.0 L158.5,346.0 L158.5,348.1 L160.1,348.1 L160.1,348.5 L161.8,348.5 M161.8,344.6 L163.4,344.6 L163.4,346.4 L165.0,346.5 L167.0,346.5 L167.0,347.0 L168.9,347.0 L168.9,347.0 L170.9,347.0 L170.9,347.0 L172.9,347.1 L174.7,347.1 L174.7,348.4 L176.5,348.4 L176.5,350.4 L178.4,350.4 M178.4,355.0 L180.2,355.0 L180.2,355.8 L182.0,354.0 L183.7,354.0 L183.7,354.8 L185.4,354.8 L185.4,354.9 L187.1,354.9 L187.1,353.8 L188.8,353.8 L188.8,354.9 L190.6,354.9 L190.6,356.4 L192.3,356.4 M192.3,360.9 L194.0,360.9 M194.0,357.0 L195.7,358.6 L197.3,358.6 L197.3,359.7 L199.0,359.7 L199.0,359.2 L200.6,359.2 L200.6,359.3 L202.2,359.3 M202.2,363.0 L203.8,363.0 M203.8,357.0 L205.5,357.0 M205.5,361.5 L207.1,362.0 L208.7,362.0 L208.7,362.8 L210.4,362.8 L210.4,363.8 L212.0,363.8 L212.0,364.4 L213.7,364.4 L213.7,362.7 L215.3,362.7 L215.3,363.6 L217.0,363.6 L217.0,362.4 L218.6,364.3 L220.2,364.3 L220.2,366.8 L221.9,366.8 L221.9,363.5 L223.5,363.5 L223.5,365.4 L225.1,365.4 L225.1,365.6 L226.7,365.6 L226.7,365.0 L228.4,365.0 M228.4,369.1 L230.0,367.7 L231.6,367.7 L231.6,369.3 L233.3,369.3 L233.3,366.6 L234.9,366.6 L234.9,369.7 L236.5,369.7 L236.5,370.0 L238.1,370.0 M238.1,365.5 L239.8,365.5 M239.8,369.3 L241.4,370.0 L243.0,370.0 L243.0,370.2 L244.7,370.2 M244.7,374.6 L246.3,374.6 M246.3,370.6 L248.0,370.6 L248.0,371.9 L249.6,371.9 L249.6,374.1 L251.3,374.1 L251.3,372.4 L252.9,373.4 L254.5,373.4 L254.5,375.2 L256.2,375.2 L256.2,373.5 L257.8,373.5 L257.8,376.3 L259.4,376.3 L259.4,374.7 L261.0,374.7 L261.0,372.8 L262.7,372.8 L262.7,373.7 L264.3,375.7 L265.9,375.7 L265.9,376.5 L267.6,376.5 L267.6,377.3 L269.2,377.3 L269.2,377.5 L270.8,377.5 L270.8,374.4 L272.4,374.4 M272.4,380.7 L274.1,380.7 L274.1,378.9 L275.7,379.1 L277.3,379.1 L277.3,378.7 L279.0,378.7 L279.0,378.7 L280.6,378.7 L280.6,378.8 L282.2,378.8 L282.2,378.5 L283.8,378.5 L283.8,380.0 L285.5,380.0 L285.5,381.1 L287.1,381.4 L288.7,381.4 L288.7,381.9 L290.4,381.9 L290.4,380.6 L292.0,380.6 M292.0,385.9 L293.7,385.9 M293.7,381.5 L295.3,381.5 L295.3,379.1 L297.0,379.1 M297.0,384.0 L298.6,382.6 L300.4,382.6 L300.4,382.3 L302.3,382.3 L302.3,381.9 L304.1,381.9 L304.1,384.7 L305.9,384.7 L305.9,382.9 L307.7,382.9 L307.7,383.6 L309.6,383.6 L309.6,387.0 L311.4,386.3 L313.0,386.3 L313.0,387.6 L314.7,387.6 L314.7,386.9 L316.3,386.9 L316.3,385.5 L317.9,385.5 M317.9,389.5 L319.6,389.5 L319.6,386.6 L321.2,386.6 M321.2,382.1 L322.9,382.1 M322.9,385.9 L324.5,385.9 L324.5,386.3 L326.1,386.3 L326.1,388.5 L327.8,388.5 M327.8,384.3 L329.4,384.3 M329.4,388.2 L331.0,388.2 L331.0,387.5 L332.7,387.5 L332.7,389.0 L334.3,387.4 L335.9,387.4 L335.9,386.1 L337.6,386.1 L337.6,383.8 L339.2,383.8 M339.2,388.6 L340.8,388.6 L340.8,388.4 L342.4,388.4 L342.4,387.5 L344.1,387.5 L344.1,387.7 L345.7,387.7 L345.7,386.0 L347.3,386.0 L347.3,389.3 L349.0,389.3 M349.0,384.3 L350.6,384.3 L350.6,386.7 L352.2,386.7 L352.2,385.7 L353.8,385.7 L353.8,387.3 L355.5,387.3 L355.5,386.8 L357.1,387.4 L358.7,387.4 L358.7,388.0 L360.4,388.0 L360.4,389.9 L362.0,389.9 M362.0,386.3 L363.6,386.3 L363.6,388.3 L365.3,388.3 M365.3,384.1 L366.9,384.1 L366.9,384.8 L368.6,384.8 L368.6,386.2 L370.2,386.2 L370.2,386.9 L371.8,386.9 L371.8,385.9 L373.5,385.9 L373.5,388.9 L375.1,388.9 L375.1,386.0 L376.7,386.0 L376.7,386.5 L378.4,386.5 L378.4,388.5 L380.0,386.9 L381.6,386.9 L381.6,385.6 L383.3,385.6 L383.3,386.3 L384.9,386.3 L384.9,387.1 L386.5,387.1 L386.5,384.2 L388.2,384.2 M388.2,388.2 L389.8,388.2 L389.8,387.1 L391.4,387.1 L391.4,384.6 L393.1,384.6 L393.1,386.2 L394.7,386.2 L394.7,385.7 L396.4,385.7 M396.4,389.2 L398.0,389.2 L398.0,385.8 L399.6,385.8 L399.6,384.0 L401.3,384.0 L401.3,385.6 L402.9,386.3 L404.5,386.3 L404.5,385.9 L406.2,385.9 L406.2,386.1 L407.8,386.1 L407.8,385.4 L409.4,385.4 L409.4,384.0 L411.0,384.0 L411.0,386.3 L412.7,386.3 L412.7,385.4 L414.3,384.6 L415.9,384.6 L415.9,384.4 L417.6,384.4 L417.6,386.9 L419.2,386.9 L419.2,385.1 L420.8,385.1 L420.8,382.3 L422.4,382.3 L422.4,383.7 L424.1,383.7 L424.1,384.1 L425.7,382.9 L427.3,382.9 L427.3,384.7 L429.0,384.7 L429.0,383.5 L430.6,383.5 L430.6,381.1 L432.2,381.1 L432.2,382.6 L433.8,382.6 L433.8,381.9 L435.5,381.9 L435.5,379.6 L437.1,380.0 L438.7,380.0 L438.7,378.2 L440.3,378.2 L440.3,378.2 L441.9,378.2 L441.9,379.8 L443.6,379.8 L443.6,383.2 L445.2,383.2 M445.2,377.1 L446.8,377.1 L446.8,380.4 L448.4,380.4 L448.4,380.4 L450.0,380.3 L451.6,380.3 L451.6,379.5 L453.3,379.5 L453.3,380.6 L454.9,380.6 M454.9,375.2 L456.5,375.2 M456.5,381.0 L458.1,381.0 L458.1,380.5 L459.8,380.5 L459.8,379.8 L461.4,378.9 L463.1,378.9 L463.1,379.4 L464.8,379.4 L464.8,380.9 L466.6,380.9 M466.6,377.0 L468.3,377.0 L468.3,380.2 L470.0,381.0 L472.1,381.0 L472.1,380.9 L474.2,380.9 L474.2,382.1 L476.3,383.4 L477.9,383.4 M477.9,377.0 L479.6,377.0 L479.6,380.1 L481.2,380.1 L481.2,380.6 L482.8,380.6 L482.8,379.4 L484.4,379.4 L484.4,378.4 L486.1,378.4 L486.1,379.3 L487.7,378.3 L489.4,378.3 L489.4,378.3 L491.1,378.3 L491.1,377.7 L492.8,377.7 L492.8,378.1 L494.5,378.1 L494.5,377.7 L496.3,377.7 L496.3,378.3 L498.0,378.3 L498.0,379.3 L499.7,379.3 L499.7,380.0 L501.4,378.9 L503.0,378.9 L503.0,381.0 L504.7,381.0 L504.7,378.1 L506.3,378.1 L506.3,377.6 L508.0,377.6 L508.0,375.6 L509.6,375.6 L509.6,377.3 L511.3,377.3 L511.3,377.7 L512.9,379.4 L514.5,379.4 L514.5,380.4 L516.2,380.4 L516.2,383.5 L517.8,383.5 M517.8,379.1 L519.4,379.1 L519.4,382.1 L521.0,382.1 L521.0,380.6 L522.7,380.6 L522.7,382.6 L524.3,381.7 L526.2,381.7 L526.2,382.1 L528.1,382.1 L528.1,382.0 L530.0,384.6 L531.6,384.6 L531.6,383.1 L533.3,383.1 L533.3,383.4 L534.9,383.4 L534.9,381.3 L536.5,381.3 M536.5,386.3 L538.1,386.3 L538.1,383.0 L539.8,383.0 L539.8,384.6 L541.4,384.6 L543.0,384.6 L543.0,385.7 L544.7,385.7 L544.7,383.0 L546.3,383.0 L546.3,385.6 L548.0,385.6 L548.0,385.2 L549.6,385.2 L549.6,388.3 L551.3,388.3 L551.3,386.7 L552.9,384.6 L554.5,384.6 L554.5,386.3 L556.1,386.3 L556.1,382.9 L557.7,382.9 L557.7,383.0 L559.3,383.0 L559.3,385.3 M560.9,381.7 L562.6,381.7 M562.6,376.7 L564.3,377.1 M567.5,31.0 L569.3,31.0 L569.3,33.1 L571.1,33.1 L571.1,29.9 L572.9,29.9 L572.9,31.1 L574.7,31.1 L574.7,32.9 L576.5,31.0 M579.1,382.9 L581.4,382.9 L581.4,380.5 L583.7,380.6 M587.1,397.7 L589.4,397.7 L589.4,394.6 M591.7,398.9 L593.4,398.9 M593.4,393.6 L595.2,393.6 L595.2,395.3 M600.9,404.6 L602.6,404.6 M602.6,408.3 L604.3,410.3 L606.2,410.3 L606.2,412.6 L608.1,412.6 L608.1,414.9 L610.0,416.0 L611.7,416.0 L611.7,416.8 L613.3,416.8 L613.3,414.4 L615.0,414.4 M615.0,418.6 L616.7,418.6 L616.7,417.9 L618.3,417.9 L618.3,420.1 L620.0,420.0 L621.6,420.0 L621.6,421.7 L623.2,421.7 L623.2,421.3 L624.8,421.3 L624.8,419.9 L626.4,419.9 M626.4,426.6 L628.0,426.6 L628.0,424.4 L629.6,424.4 L629.6,424.0 L631.2,424.0 L631.2,427.0 L632.8,427.0 L632.8,425.3 L634.4,425.3 M634.4,430.5 L636.0,430.0 L637.8,430.0 L637.8,429.4 L639.5,429.4 L639.5,431.2 L641.2,431.2 M641.2,434.9 L643.0,434.9 L643.0,435.3 L644.8,435.3 L644.8,436.0 L646.5,436.0 L646.5,434.4 L648.2,434.4 L648.2,435.1 L650.0,436.0 L651.6,436.0 L651.6,435.7 L653.2,435.7 L653.2,433.9 L654.8,433.9 M654.8,437.9 L656.5,437.9 L656.5,438.6 L658.1,438.6 L658.1,438.2 L659.7,438.2 L659.7,438.3 L661.3,438.3 L661.3,441.0 L662.9,441.0 L662.9,441.0 L664.5,441.0 M664.5,444.8 L666.2,444.8 L666.2,444.3 L667.8,444.3 L667.8,444.3 L669.4,444.3 L669.4,444.0 L671.0,446.0 L672.7,446.0 L672.7,446.5 L674.5,446.5 M674.5,450.0 L676.2,450.0 L676.2,447.1 L677.9,447.1 L677.9,449.8 L679.6,449.8 L679.6,447.7 L681.4,447.7 L681.4,449.5 L683.1,449.5 L683.1,448.0 L684.8,448.0 M684.8,452.7 L686.5,452.7 L686.5,452.1 L688.3,452.1 L688.3,451.2 L690.0,454.0 L691.7,454.0 L691.7,454.5 L693.3,454.5 L693.3,457.9 L695.0,457.9 L695.0,455.7 L696.7,455.7 L696.7,456.5 L698.3,456.5 L698.3,457.5 L700.0,459.0 L701.8,459.0 L701.8,458.4 L703.5,458.0 M706.5,459.0 L708.2,459.0 L708.2,460.7 L709.9,460.7 L709.9,459.9 L711.5,459.9 M711.5,463.6 L713.2,463.6 L713.2,462.0 L714.9,462.0 L714.9,462.4 L716.6,462.4 L716.6,464.7 L718.3,464.7 L718.3,465.9 L720.0,465.9 L720.0,468.5 L721.6,468.5 L721.6,465.8 L723.3,465.8 M723.3,472.3 L725.0,471.0 L726.7,471.0 L726.7,472.9 L728.4,472.9 M728.4,469.3 L730.1,469.3 M730.1,474.9 L731.8,474.9 L731.8,473.3 L733.5,473.3 L733.5,474.6 L735.2,474.6 L735.2,472.8 L736.9,472.8 L736.9,474.2 L738.6,474.2 L738.6,477.4 L740.3,477.4 L740.3,475.8 L742.0,477.0 L743.7,477.0 L743.7,478.9 L745.4,478.9 L745.4,477.1 L747.1,477.1 L747.1,479.4 L748.8,479.4 L748.8,479.1 L750.5,479.1 L750.5,479.0 L752.2,479.0 L752.2,478.2 L753.9,478.2 L753.9,480.1 L755.6,480.1 L755.6,479.7 L757.3,479.7 L757.3,483.2 L759.0,483.2 L759.0,481.4 L760.7,483.0 L762.3,483.0 L762.3,482.9 L763.9,482.9 L763.9,483.5 L765.5,483.5 L765.5,482.3 L767.1,482.3 M767.1,486.1 L768.7,486.1 L768.7,485.5 L770.4,485.5 L770.4,488.4 L772.0,488.4 L772.0,487.0 L773.6,487.0 L773.6,489.5 L775.2,489.5 L775.2,486.8 L776.8,486.8 L776.8,489.0 L778.4,489.0 L778.4,489.2 L780.0,490.0 L781.6,490.0 L781.6,491.6 L783.3,491.6 L783.3,490.3 L784.9,490.3 L784.9,489.6 L786.6,489.6 L786.6,489.0 L788.2,489.0 M788.2,492.5 L789.8,492.5 L789.8,494.1 L791.5,494.1 L791.5,493.4 L793.1,493.4 L793.1,493.9 L794.8,493.9 L794.8,495.8 L796.4,496.0 L798.0,496.0 L798.0,495.8 L799.6,495.8 M799.6,499.5 L801.3,499.5 L801.3,496.4 L802.9,496.4 L802.9,498.4 L804.5,498.4 L804.5,497.7 L806.1,497.7 L806.1,500.1 L807.8,500.1 M807.8,496.2 L809.4,496.2 M809.4,499.7 L811.0,499.0 L812.8,499.0 L812.8,501.2 L814.5,501.2 L814.5,499.1 L816.2,499.1 L816.2,498.0 L818.0,498.0 L818.0,500.7 L819.8,500.7 L819.8,502.1 L821.5,502.1 L821.5,501.6 L823.2,501.6 M823.2,506.0 L825.0,504.0 L826.7,504.0 L826.7,503.1 L828.3,503.1 L828.3,503.4 L830.0,503.4 L830.0,503.8 L831.7,503.8 L831.7,504.1 L833.3,504.1 L833.3,503.4 L835.0,503.4 L835.0,504.3 L836.7,504.3 M836.7,508.0 L838.3,508.0 L838.3,507.0 L840.0,508.0 L841.8,508.0 L841.8,510.0 L843.5,510.0 L843.5,510.4 L845.2,510.4 L845.2,510.8 L847.0,510.8 L847.0,508.5 L848.8,508.5 L848.8,510.8 L850.5,510.8 L850.5,508.8 L852.2,508.8 L852.2,511.0 L854.0,510.0 L855.7,510.0 L855.7,509.1 L857.4,509.1 L857.4,509.1 L859.1,509.1 L859.1,511.6 L860.9,511.6 L860.9,508.7 L862.6,508.7 L862.6,505.3 L864.3,505.3 L864.3,507.5 L866.0,508.0 L868.6,505.0 M875.0,463.5 L877.0,464.0 M886.0,509.0 L887.7,509.0 M887.7,512.8 L889.3,512.8 L889.3,516.3 L891.0,518.0 L893.0,518.0 L893.0,519.7 L895.0,519.7 L895.0,522.0 L897.0,521.4 L898.7,521.4 L898.7,520.5 L900.4,520.5 L900.4,522.6 L902.1,522.6 L902.1,522.0 L903.8,522.0 L903.8,522.4 L905.4,522.4 L905.4,522.3 L907.1,522.3 L907.1,520.2 L908.8,520.2 L908.8,522.9 L910.5,522.9 L910.5,525.1 L912.2,525.1 M912.2,519.3 L913.9,519.3 M913.9,526.2 L915.6,526.2 M915.6,522.2 L917.3,522.2 L917.3,524.1 L918.9,524.1 L918.9,523.9 L920.6,523.9 L920.6,522.5 L922.3,522.5 L922.3,524.2 L924.0,524.2 L924.0,524.2 L925.7,525.7 L927.4,525.7 L927.4,525.0 L929.0,525.0 L929.0,526.0 L930.7,526.0 L930.7,523.3 L932.4,523.3 L932.4,525.4 L934.0,525.4 L934.0,526.9 L935.7,526.9 L935.7,526.7 L937.4,526.7 L937.4,527.4 L939.0,527.4 L939.0,528.5 L940.7,528.5 L940.7,529.1 L942.3,529.1 L942.3,528.1 L944.0,528.1 L944.0,526.8 L945.7,526.8 L945.7,528.6 L947.3,528.6 L947.3,526.2 L949.0,526.2 L949.0,529.5 L950.7,529.5 L950.7,526.2 L952.3,526.2 M952.3,529.9 L954.0,530.0 L955.6,530.0 L955.6,528.0 L957.2,528.0 M957.2,533.2 L958.8,533.2 L958.8,533.6 L960.4,533.6 L960.4,532.6 L962.1,532.6 L962.1,533.5 L963.7,533.5 L963.7,532.0 L965.3,532.0 L965.3,534.1 L966.9,534.1 L966.9,533.5 L968.5,533.5 L968.5,531.6 L970.1,531.6 M970.1,535.8 L971.7,535.8 L971.7,533.4 L973.3,533.4 L973.3,533.6 L974.9,533.6 L974.9,536.1 L976.6,536.1 L976.6,532.8 L978.2,532.8 L978.2,533.0 L979.8,533.0 L979.8,534.2 L981.4,534.2 L981.4,537.0 L983.0,535.7 L984.7,535.7 L984.7,532.5 L986.4,532.5 L986.4,535.8 L988.1,535.8 L988.1,537.8 L989.8,537.8 M989.8,532.8 L991.5,532.8 L991.5,535.8 L993.2,535.8 M993.2,539.9 L994.9,539.9 L994.9,537.6 L996.6,537.6 L996.6,534.9 L998.3,534.9 M998.3,540.3 L1000.0,538.5 L1001.8,538.5 L1001.8,541.6 L1003.7,541.6 M1003.7,536.9 L1005.5,536.9 L1005.5,536.5 L1007.3,536.5 M1007.3,540.1 L1009.2,540.1 L1009.2,538.3 L1011.0,540.0 L1013.0,540.0 L1013.0,540.2 L1015.0,540.2 L1015.0,538.4 L1017.0,540.0 L1018.8,540.0 L1018.8,539.3 L1020.5,536.0 M1027.3,384.0 L1028.5,384.0 M1038.0,534.4 L1040.0,534.4 M1040.0,539.1 L1042.0,540.0 L1043.9,540.0 M1043.9,543.6 L1045.7,543.6 L1045.7,544.5 L1047.6,545.0 L1049.4,545.0 L1049.4,544.9 L1051.3,544.9 L1051.3,544.0 L1053.2,544.0 M1053.2,549.1 L1055.0,546.5 L1056.6,546.5 L1056.6,548.2 L1058.2,548.2 L1058.2,545.7 L1059.8,545.7 L1059.8,547.2 L1061.4,547.2 L1061.4,547.7 L1063.0,547.6 L1064.8,547.6 L1064.8,548.2 L1066.5,548.2 L1066.5,545.3 L1068.2,545.3 L1068.2,546.7 L1070.0,544.0 L1072.0,544.0 L1072.0,543.1 L1074.0,543.1 M1074.0,538.6 L1076.0,538.0 L1078.0,538.0 M1080.0,530.0 L1083.0,527.8 M1089.0,544.0 L1090.8,544.0 M1090.8,548.6 L1092.5,550.0 L1094.4,550.0 L1094.4,552.3 L1096.2,552.3 L1096.2,553.2 L1098.1,553.2 L1098.1,554.2 L1100.0,554.5 L1101.9,554.5 L1101.9,555.7 L1103.8,555.7 L1103.8,552.3 L1105.7,555.6 L1107.8,555.6 L1107.8,556.4 L1109.9,556.4 L1109.9,555.3 L1112.0,554.0 M1119.5,476.3 L1121.0,476.3 M1129.0,546.4 L1131.0,543.0 M1145.0,555.0 L1148.0,559.5 L1149.8,559.5 L1149.8,556.6 L1151.5,556.6 M1151.5,560.3 L1153.2,560.3 L1153.2,562.2 L1155.0,561.5 L1156.7,561.5 L1156.7,562.8 L1158.3,562.8 L1158.3,560.7 L1160.0,560.7 L1160.0,562.5 L1161.7,562.5 L1161.7,562.6 L1163.3,562.6 L1163.3,565.2 L1165.0,565.2 L1165.0,564.4 L1166.7,564.4 L1166.7,566.8 L1168.3,566.8 L1168.3,569.3 M1170.0,565.0 L1171.7,565.0 L1171.7,565.4 L1173.3,565.4 L1173.3,566.5 L1175.0,566.5 L1175.0,565.3 L1176.7,565.3 L1176.7,565.9 L1178.3,565.9 L1178.3,562.8 L1180.0,562.8 L1180.0,565.6 L1181.7,565.6 L1181.7,564.6 L1183.3,564.6 L1183.3,564.4 L1185.0,564.4 L1185.0,565.7 L1186.7,565.7 L1186.7,566.0 L1188.3,566.0 L1188.3,566.3 L1190.0,567.0 L1191.7,567.0 L1191.7,566.8 L1193.3,566.8 L1193.3,566.3 L1195.0,566.3 L1195.0,566.4 L1196.7,566.4 L1196.7,568.3 L1198.3,568.3 L1198.3,570.0 L1200.0,570.0 L1200.0,567.5 L1201.7,567.5 L1201.7,570.5 L1203.3,570.5 L1203.3,571.0 L1205.0,571.0 L1205.0,568.0 L1206.7,568.0 L1206.7,568.3 L1208.3,568.3 L1208.3,569.4 L1210.0,570.0 L1211.7,570.0 L1211.7,568.9 L1213.3,568.9 L1213.3,570.9 L1215.0,570.9 L1215.0,570.3 L1216.7,570.3 L1216.7,567.7 L1218.3,567.7 L1218.3,570.0 L1220.0,570.0 L1220.0,570.4 L1221.7,570.4 L1221.7,567.1 L1223.3,567.1 L1223.3,569.9 L1225.0,569.9 L1225.0,568.7 L1226.7,568.7 L1226.7,569.7 L1228.3,569.7 L1228.3,572.5 L1230.0,570.0 L1231.7,570.0 L1231.7,569.2 L1233.3,569.2 L1233.3,570.0 L1235.0,570.0 L1235.0,567.7 L1236.7,567.7 L1236.7,568.0 L1238.3,568.0 L1238.3,568.0 L1240.0,568.0 M1247.8,477.6 L1249.0,477.6 M1256.0,569.0 L1258.0,569.0 L1258.0,571.4 L1260.0,571.5 L1261.7,571.5 L1261.7,574.8 L1263.3,574.8 L1263.3,573.5 L1265.0,573.5 L1265.0,571.8 L1266.7,571.8 L1266.7,568.4 L1268.3,568.4 L1268.3,570.6 L1270.0,570.6 M1270.0,574.8 L1271.7,574.8 M1271.7,570.2 L1273.3,570.2 L1273.3,570.9 L1275.0,573.0 L1276.7,573.0 L1276.7,571.8 L1278.3,571.8 L1278.3,572.1 L1280.0,572.1 L1280.0,571.0 L1281.7,571.0 M1281.7,576.0 L1283.3,576.0 L1283.3,575.9 L1285.0,575.9 L1285.0,575.0 L1286.7,575.0 L1286.7,572.8 L1288.3,572.8 L1288.3,575.6 L1290.0,575.0 L1291.7,575.0 L1291.7,573.4 L1293.3,573.4 L1293.3,574.9 L1295.0,574.9 L1295.0,573.8 L1296.7,573.8 L1296.7,577.1 L1298.3,577.1 L1298.3,577.0 L1300.0,577.0 L1300.0,574.3 L1301.7,574.3 L1301.7,576.3 L1303.3,576.3 L1303.3,576.5 L1305.0,576.5 L1305.0,577.0 L1306.7,577.0 L1306.7,574.7 L1308.3,574.7 L1308.3,575.5 L1310.0,576.5 L1311.7,576.5 L1311.7,577.6 L1313.3,577.6 L1313.3,577.5 L1315.0,577.5 L1315.0,575.5 L1316.7,575.5 L1316.7,576.3 L1318.3,576.3 L1318.3,579.4 L1320.0,579.4 L1320.0,577.0 L1321.7,577.0 L1321.7,577.3 L1323.3,577.3 L1323.3,577.4 L1325.0,577.4 L1325.0,574.8 L1326.7,574.8 L1326.7,574.5 L1328.3,574.5 M1328.3,579.6 L1330.0,578.0 L1331.7,578.0 L1331.7,577.3 L1333.3,577.3 L1333.3,578.7 L1335.0,578.7 L1335.0,579.3 L1336.7,579.3 L1336.7,576.5 L1338.3,576.5 L1338.3,575.8 L1340.0,575.8 L1340.0,577.6 L1341.7,577.6 L1341.7,577.5 L1343.3,577.5 L1343.3,580.1 L1345.0,580.1 L1345.0,578.2 L1346.7,578.2 L1346.7,578.3 L1348.3,578.3 L1348.3,579.3 L1350.0,579.0 L1351.6,579.0 L1351.6,579.4 L1353.2,579.4 L1353.2,579.0 L1354.8,579.0 L1354.8,578.1 L1356.4,578.1 L1356.4,581.3 L1358.0,581.3 L1358.0,578.4 L1359.6,578.4 L1359.6,579.6 L1361.2,579.6 L1361.2,578.3 L1362.8,578.3 L1362.8,579.1 L1364.4,579.1 L1364.4,579.3 L1366.0,580.0" fill="none" stroke="#e30d0d" stroke-width="2.1" stroke-linejoin="round" stroke-dasharray="3.1 10.7 4.7 9.6 3.3 11.0 2.1 10.1 3.7 13.5 1.8 7.6 1.8 13.7 3.9 4.5 4.9 15.6 3.8 11.4 2.1 4.2 3.3 4.7 2.2 6.9 1.6 9.6 3.0 14.1 3.3 11.7 3.2 11.9 3.1 7.3 5.0 15.9 4.4 12.5 2.6 6.8 2.5 4.8 4.2 8.8 4.5 8.6 4.9 14.2 1.5 6.5 4.7 9.6 4.9 8.8 1.8 11.6 4.2 7.2 1.8 8.0 4.9 13.1 1.9 7.0 1.9 4.7 4.3 6.1 3.5 9.4 2.2 12.8 2.0 11.7 1.9 9.0 2.2 7.2 4.9 13.6 2.6 14.6 2.2 8.7 4.5 11.7 1.9 15.9 2.2 7.1 4.2 7.9 2.5 4.9 1.8 11.0 2.4 11.2 2.8 9.4 4.9 9.8 3.5 14.4 2.1 5.8 4.7 13.8 2.4 6.3 4.1 15.3 2.2 15.4 4.6 11.2 3.0 5.2 1.6 15.6 2.3 12.5 2.4 13.9 3.6 7.5 2.1 12.6 1.7 6.7 3.5 14.2 3.7 7.4 4.7 6.4 1.6 7.2 3.1 4.7 2.1 8.4 3.5 5.6 2.8 14.7 4.9 11.9 3.9 11.0 2.0 4.4 1.6 14.9 4.0 15.6 1.6 11.6 3.2 12.8 2.6 16.0 1.8 10.6 4.1 14.8 4.1 12.4 4.3 15.0 2.7 12.2 4.7 14.5 3.0 13.5 4.5 10.9 3.7 8.6 3.5 11.3 1.8 11.7 5.0 14.6 4.0 8.7 4.1 11.0 3.0 14.1 1.8 13.0 1.6 11.2 3.2 6.8 3.9 10.0 3.7 15.0 2.4 4.1 2.6 12.1 2.2 6.0 4.7 11.9 3.0 14.7 2.6 12.0 2.2 9.2 4.3 15.0 4.6 8.6 3.5 7.8 2.0 10.0 4.4 14.2 4.0 15.4 2.5 6.0 3.1 7.3 2.2 9.0 3.7 9.9 2.6 14.1 4.9 9.4 1.8 4.4 4.6 4.5 4.0 10.8 2.6 13.5 1.6 5.6 3.1 4.3 4.4 6.8 2.0 4.6 3.7 9.4 3.7 11.9 4.3 15.5 3.9 6.4 3.2 6.1 1.5 9.7 4.0 6.1 2.5 8.1 3.9 10.2 3.7 13.1 2.9 13.5 4.7 5.0 4.8 12.7 2.0 9.4 3.7 14.9 2.8 10.8 4.6 13.6 4.8 9.6 3.8 6.5 4.0 13.8 3.7 12.6 2.2 14.8 4.9 15.7 3.4 13.5 2.6 14.9 4.5 8.2 1.8 9.3 3.4 13.2 3.2 4.3 4.3 4.8 4.3 6.1 2.7 13.5 2.0 5.8 3.3 12.7 4.4 12.3 4.8 9.9 4.8 5.0 2.3 10.3 2.5 12.7 3.7 10.3 4.5 10.7 2.6 8.6 4.5 14.8 2.2 14.2 4.9 10.3 3.5 6.4 3.4 10.0 3.6 4.3 4.9 10.2 2.9 13.6 3.5 9.9 3.9 4.8 3.4 9.0 4.8 15.1 2.4 9.7 1.9 9.2 4.4 14.8 3.2 7.8 2.2 11.4 4.7 5.6 4.2 4.3 2.2 6.7 3.9 7.9 2.7 11.4 1.9 12.8 1.9 10.1 2.4 6.4 3.4 9.2 2.8 9.0 3.4 5.9 2.2 11.6 3.7 10.4 4.5 11.3 4.5 6.8 4.1 13.7 4.7 7.8 2.6 15.1 2.3 16.0 4.6 5.6 2.3 12.7 2.4 5.2 4.4 9.1 4.3 5.5 2.9 12.2 1.6 6.4 3.9 14.9 4.9 5.4 3.3 13.1 3.3 12.2 2.2 4.8 1.9 4.4 3.4 10.2 3.5 5.8 2.1 6.4 4.4 15.9 4.7 5.1 1.7 15.4 3.1 13.2 2.6 9.6 3.3 9.2 3.6 4.2 4.0 14.1 2.1 9.4 4.1 8.9 2.2 6.0 3.3 4.2 4.6 13.6 4.0 14.3 3.7 8.9 3.6 10.1 4.9 13.7 2.4 14.9 4.1 13.3 4.4 8.9 4.6 14.6 3.9 13.2 4.2 8.9 4.0 4.8 2.7 9.6 1.5 8.3 3.7 11.5 2.3 15.3 3.8 8.1 3.8 10.8 3.4 8.7 5.0 11.7 4.0 13.1 4.9 4.3 3.7 12.9 2.4 8.8 1.7 6.3 2.8 5.2 2.4 14.9 3.4 10.1 4.9 10.8 5.0 11.7 4.3 4.9 3.6 13.1 1.7 15.2 2.1 9.7 2.1 9.9 3.6 4.7 4.8 9.0 3.3 11.2 2.8 7.4 3.8 10.7 2.5 12.6 2.5 4.2 2.4 4.5 2.0 13.1 2.9 14.8 4.1 4.6 5.0 15.3 1.8 14.9 3.0 9.7 4.9 6.9 3.3 15.2 4.0 9.6 4.9 13.8 3.6 5.4 3.7 9.5 2.2 4.6 3.3 5.5 3.1 12.0 3.1 7.1 3.5 9.0 4.2 10.4 5.0 15.4 4.1 6.9 1.9 14.7 4.2 11.5" stroke-linecap="round"/>
<line x1="1027.9" y1="384" x2="1027.9" y2="437" stroke="#e30d0d" stroke-width="3.6"/>
<line x1="1120.3" y1="476.3" x2="1120.3" y2="514" stroke="#e30d0d" stroke-width="3.6"/>
<line x1="1248.4" y1="477.6" x2="1248.4" y2="531.8" stroke="#e30d0d" stroke-width="3.6"/>
<polyline points="177.0,1287.0 178.6,1287.0 178.6,1286.9 180.2,1286.9 180.2,1287.4 181.9,1287.4 181.9,1287.9 183.5,1287.9 183.5,1287.1 185.1,1287.1 185.1,1286.5 186.8,1286.5 186.8,1285.3 188.4,1285.3 188.4,1286.4 190.0,1286.0 191.8,1286.0 191.8,1286.3 193.6,1286.3 193.6,1286.7 195.4,1286.7 195.4,1283.1 197.2,1283.1 197.2,1284.3 199.0,1284.8 202.0,1275.0 204.3,1260.0 207.0,1243.0 209.5,1232.8 212.0,1240.0 214.5,1256.0 216.8,1270.0 219.0,1282.0 221.0,1288.0 222.8,1288.0 222.8,1290.4 224.6,1290.4 224.6,1289.6 226.4,1289.6 226.4,1289.4 228.2,1289.4 228.2,1289.5 230.0,1291.0 231.6,1291.0 231.6,1291.4 233.3,1291.4 233.3,1294.4 234.9,1294.4 234.9,1291.2 236.6,1291.2 236.6,1294.3 238.2,1294.3 238.2,1292.3 239.9,1292.3 239.9,1292.3 241.5,1292.3 241.5,1294.1 243.1,1294.1 243.1,1295.2 244.8,1295.2 244.8,1296.1 246.4,1296.1 246.4,1297.2 248.1,1297.2 248.1,1295.9 249.7,1295.9 249.7,1299.6 251.4,1299.6 251.4,1298.5 253.0,1297.3 254.7,1297.3 254.7,1297.4 256.4,1297.4 256.4,1299.1 258.1,1299.1 258.1,1295.4 259.8,1295.4 259.8,1297.8 261.5,1297.8 261.5,1298.0 263.2,1298.0 263.2,1298.3 264.8,1298.3 264.8,1298.9 266.5,1298.9 266.5,1299.7 268.2,1299.7 268.2,1302.0 269.9,1302.0 269.9,1298.5 271.6,1298.5 271.6,1300.7 273.3,1300.7 273.3,1299.3 275.0,1301.0 276.6,1301.0 276.6,1301.7 278.3,1301.7 278.3,1300.4 279.9,1300.4 279.9,1302.5 281.6,1302.5 281.6,1302.9 283.2,1302.9 283.2,1302.5 284.9,1302.5 284.9,1302.3 286.5,1302.3 286.5,1301.7 288.1,1301.7 288.1,1303.5 289.8,1303.5 289.8,1301.8 291.4,1301.8 291.4,1303.5 293.1,1303.5 293.1,1305.1 294.7,1303.5 296.4,1303.5 296.4,1303.2 298.1,1303.2 298.1,1303.5 299.8,1303.5 299.8,1304.1 301.5,1304.1 301.5,1305.8 303.2,1305.8 303.2,1303.9 304.9,1303.9 304.9,1302.5 306.5,1302.5 306.5,1304.7 308.2,1304.7 308.2,1303.3 309.9,1303.3 309.9,1303.1 311.6,1303.1 311.6,1305.4 313.3,1305.4 313.3,1304.7 315.0,1304.5 316.7,1304.5 316.7,1303.6 318.5,1303.6 318.5,1305.1 320.2,1305.1 320.2,1304.3 322.0,1304.3 322.0,1305.2 323.7,1305.2 323.7,1302.9 325.5,1302.9 325.5,1300.9 327.2,1300.9 327.2,1305.2 329.0,1305.2 329.0,1307.3 330.7,1307.3 330.7,1303.5 332.5,1303.5 332.5,1306.3 334.2,1304.6 336.5,1303.5 338.7,1301.9 341.6,1282.0 344.5,1270.3 346.9,1220.0 348.6,1190.9 349.8,1185.0 351.5,1199.0 353.9,1231.8 354.5,1261.0 357.4,1272.7 359.7,1287.9 362.0,1287.9 362.0,1294.4 364.4,1299.5 366.1,1299.5 366.1,1298.5 367.9,1300.7 369.8,1300.7 369.8,1299.6 371.8,1299.6 371.8,1304.3 373.7,1298.4 375.7,1298.4 375.7,1295.5 377.6,1295.5 377.6,1292.6 379.6,1290.2 380.7,1276.2 383.7,1255.1 384.8,1241.1 386.6,1218.9 387.8,1201.4 390.1,1206.1 391.8,1220.0 393.6,1266.8 395.9,1287.9 398.5,1300.0 400.6,1305.4 402.2,1305.4 402.2,1308.9 403.9,1308.9 403.9,1307.3 405.5,1307.3 405.5,1307.5 407.2,1307.5 407.2,1310.3 408.8,1311.2 410.7,1311.2 410.7,1313.0 412.7,1313.0 412.7,1315.1 414.6,1315.9 416.4,1315.9 416.4,1314.6 418.2,1314.6 418.2,1318.4 420.0,1317.5 421.7,1317.5 421.7,1320.5 423.4,1320.5 423.4,1318.2 425.2,1318.2 425.2,1317.6 426.9,1317.6 426.9,1315.0 428.6,1316.4 430.2,1316.4 430.2,1315.6 431.8,1315.6 431.8,1316.1 433.4,1316.1 433.4,1314.7 435.0,1314.7 435.0,1315.2 436.6,1315.2 436.6,1316.1 438.2,1316.1 438.2,1310.9 439.9,1310.9 439.9,1312.9 441.5,1312.9 441.5,1316.1 443.1,1316.1 443.1,1310.6 444.7,1310.6 444.7,1314.3 446.3,1314.3 446.3,1311.7 447.9,1313.5 449.5,1313.5 449.5,1311.2 451.1,1311.2 451.1,1311.3 452.7,1311.3 452.7,1310.7 454.3,1310.7 454.3,1313.7 455.9,1313.7 455.9,1311.2 457.5,1311.6 459.2,1311.6 459.2,1311.8 460.9,1311.8 460.9,1313.6 462.6,1313.6 462.6,1314.5 464.2,1314.5 464.2,1314.0 465.9,1314.0 465.9,1314.6 467.6,1314.6 467.6,1317.6 469.3,1317.6 469.3,1316.1 471.0,1317.4 472.7,1317.4 472.7,1317.8 474.4,1317.8 474.4,1316.6 476.1,1316.6 476.1,1320.2 477.8,1320.2 477.8,1317.8 479.6,1317.8 479.6,1317.3 481.3,1317.3 481.3,1316.4 483.0,1316.4 483.0,1320.3 484.7,1320.3 484.7,1320.4 486.4,1320.3 488.0,1320.3 488.0,1318.8 489.6,1318.8 489.6,1321.1 491.2,1321.1 491.2,1320.0 492.8,1320.0 492.8,1322.2 494.4,1322.2 494.4,1322.3 496.0,1322.3 496.0,1323.3 497.7,1323.3 497.7,1321.7 499.3,1321.7 499.3,1322.4 500.9,1322.4 500.9,1322.7 502.5,1322.7 502.5,1324.3 504.1,1324.3 504.1,1325.6 505.7,1324.1 507.3,1324.1 507.3,1324.5 508.9,1324.5 508.9,1324.3 510.5,1324.3 510.5,1325.1 512.1,1325.1 512.1,1322.1 513.7,1322.1 513.7,1323.1 515.4,1323.1 515.4,1323.8 517.0,1323.8 517.0,1324.9 518.6,1324.9 518.6,1321.1 520.2,1321.1 520.2,1323.8 521.8,1323.8 521.8,1322.9 523.4,1322.9 523.4,1324.0 525.0,1325.1 526.6,1325.1 526.6,1328.2 528.2,1328.2 528.2,1327.0 529.8,1327.0 529.8,1324.1 531.4,1324.1 531.4,1324.5 533.0,1324.5 533.0,1327.2 534.6,1327.2 534.6,1324.5 536.3,1324.5 536.3,1326.5 537.9,1326.5 537.9,1325.6 539.5,1325.6 539.5,1326.0 541.1,1326.0 541.1,1325.3 542.7,1325.3 542.7,1324.2 544.3,1326.1 545.9,1326.1 545.9,1327.7 547.5,1327.7 547.5,1325.9 549.1,1325.9 549.1,1325.6 550.7,1325.6 550.7,1326.0 552.3,1326.0 552.3,1327.4 554.0,1327.4 554.0,1330.2 555.6,1330.2 555.6,1327.8 557.2,1327.8 557.2,1328.2 558.8,1328.2 558.8,1328.8 560.4,1328.8 560.4,1329.8 562.0,1329.8 562.0,1328.9 563.6,1328.0 565.2,1328.0 565.2,1327.9 566.8,1327.9 566.8,1328.6 568.4,1328.6 568.4,1328.7 570.0,1328.7 570.0,1332.6 571.6,1332.6 571.6,1330.4 573.2,1330.4 573.2,1328.3 574.9,1328.3 574.9,1327.0 576.5,1327.0 576.5,1330.9 578.1,1330.9 578.1,1327.9 579.7,1327.9 579.7,1329.3 581.3,1329.3 581.3,1328.0 582.9,1329.9 584.5,1329.9 584.5,1330.3 586.1,1330.3 586.1,1328.7 587.7,1328.7 587.7,1329.0 589.3,1329.0 589.3,1330.0 590.9,1330.0 590.9,1333.9 592.5,1333.9 592.5,1331.9 594.2,1331.9 594.2,1329.7 595.8,1329.7 595.8,1332.9 597.4,1332.9 597.4,1330.5 599.0,1330.5 599.0,1332.5 600.6,1332.5 600.6,1331.8 602.2,1330.9 603.9,1330.9 603.9,1333.3 605.7,1333.3 605.7,1333.8 607.4,1333.8 607.4,1329.4 609.2,1329.4 609.2,1331.8 610.9,1331.8 610.9,1329.3 612.7,1329.3 612.7,1331.9 614.4,1331.9 614.4,1330.3 616.2,1330.3 616.2,1330.6 617.9,1330.6 617.9,1330.7 619.7,1330.7 619.7,1332.2 621.4,1330.9 623.0,1330.9 623.0,1329.1 624.6,1329.1 624.6,1329.5 626.2,1329.5 626.2,1329.3 627.8,1329.3 627.8,1332.2 629.4,1332.2 629.4,1327.9 631.0,1327.9 631.0,1328.1 632.7,1328.1 632.7,1328.2 634.3,1328.2 634.3,1330.9 635.9,1330.9 635.9,1329.8 637.5,1329.8 637.5,1327.6 639.1,1327.6 639.1,1324.9 640.7,1328.0 642.6,1328.0 642.6,1327.9 644.4,1327.9 644.4,1327.6 646.3,1327.6 646.3,1328.3 648.1,1328.3 648.1,1328.5 650.0,1328.6 651.7,1328.6 651.7,1327.6 653.3,1327.6 653.3,1325.2 655.0,1326.3 658.0,1320.6 661.7,1308.0 666.0,1295.4 667.9,1295.4 667.9,1299.6 669.7,1303.4 673.0,1313.7 678.0,1326.3 679.9,1326.3 679.9,1328.2 681.9,1328.2 681.9,1330.7 683.8,1330.7 683.8,1328.6 685.7,1329.7 687.4,1329.7 687.4,1332.0 689.0,1332.0 689.0,1332.1 690.7,1332.1 690.7,1330.2 692.4,1330.2 692.4,1329.3 694.0,1329.3 694.0,1332.2 695.7,1332.2 695.7,1332.8 697.4,1332.8 697.4,1332.6 699.0,1332.6 699.0,1335.8 700.7,1335.8 700.7,1334.6 702.4,1334.6 702.4,1333.4 704.0,1333.4 704.0,1334.6 705.7,1335.4 707.4,1335.4 707.4,1335.6 709.0,1335.6 709.0,1336.4 710.7,1336.4 710.7,1335.6 712.4,1335.6 712.4,1337.0 714.0,1337.0 714.0,1336.3 715.7,1336.3 715.7,1338.4 717.4,1338.4 717.4,1335.9 719.0,1335.9 719.0,1337.9 720.7,1337.9 720.7,1338.0 722.4,1338.0 722.4,1337.8 724.0,1337.8 724.0,1338.4 725.7,1337.7 727.3,1337.7 727.3,1338.6 728.9,1338.6 728.9,1336.9 730.5,1336.9 730.5,1337.3 732.1,1337.3 732.1,1336.3 733.7,1336.3 733.7,1336.2 735.4,1336.2 735.4,1335.7 737.0,1335.7 737.0,1335.8 738.6,1335.8 738.6,1335.8 740.2,1335.8 740.2,1337.0 741.8,1337.0 741.8,1334.7 743.4,1334.7 743.4,1335.0 745.0,1334.3 746.7,1334.3 746.7,1334.3 748.4,1334.3 748.4,1333.0 750.1,1333.0 750.1,1328.4 751.9,1328.4 751.9,1330.3 753.6,1330.3 753.6,1328.8 755.3,1328.8 755.3,1328.0 757.0,1328.6 759.0,1328.6 759.0,1328.4 761.0,1328.4 761.0,1321.4 763.0,1324.6 765.2,1324.6 765.2,1324.3 767.4,1322.9 769.7,1322.9 769.7,1324.2 772.0,1325.1 774.0,1325.1 774.0,1329.2 776.0,1329.2 776.0,1330.3 778.0,1334.3 780.0,1334.3 780.0,1335.1 782.0,1335.1 782.0,1338.5 784.0,1339.4 785.6,1339.4 785.6,1339.2 787.2,1339.2 787.2,1339.6 788.8,1339.6 788.8,1340.0 790.4,1340.0 790.4,1339.3 792.0,1339.3 792.0,1337.2 793.6,1337.2 793.6,1340.1 795.2,1340.1 795.2,1339.2 796.8,1339.2 796.8,1340.0 798.4,1340.0 798.4,1340.2 800.0,1340.2 801.7,1340.2 801.7,1340.2 803.3,1340.2 803.3,1337.3 805.0,1337.3 805.0,1339.4 806.7,1339.4 806.7,1342.3 808.3,1342.3 808.3,1340.0 810.0,1340.0 810.0,1340.8 811.7,1340.8 811.7,1340.2 813.3,1340.2 813.3,1339.9 815.0,1339.9 815.0,1342.2 816.7,1342.2 816.7,1341.7 818.3,1341.7 818.3,1340.8 820.0,1340.8 820.0,1343.5 821.7,1343.5 821.7,1341.1 823.3,1341.1 823.3,1340.4 825.0,1340.4 825.0,1342.1 826.7,1342.1 826.7,1343.5 828.3,1343.5 828.3,1340.5 830.0,1342.5 831.7,1342.5 831.7,1344.7 833.3,1344.7 833.3,1344.9 835.0,1344.9 835.0,1344.9 836.7,1344.9 836.7,1344.5 838.3,1344.5 838.3,1342.1 840.0,1342.1 840.0,1343.4 841.7,1343.4 841.7,1343.2 843.3,1343.2 843.3,1344.6 845.0,1344.6 845.0,1345.7 846.7,1345.7 846.7,1343.7 848.3,1343.7 848.3,1346.2 850.0,1346.2 850.0,1344.4 851.7,1344.4 851.7,1344.1 853.3,1344.1 853.3,1346.0 855.0,1344.9 856.7,1344.9 856.7,1345.3 858.3,1345.3 858.3,1344.4 860.0,1344.4 860.0,1345.8 861.7,1345.8 861.7,1345.2 863.3,1345.2 863.3,1344.8 865.0,1344.8 865.0,1345.5 866.7,1345.5 866.7,1346.1 868.3,1346.1 868.3,1345.9 870.0,1345.9 870.0,1345.7 871.7,1345.7 871.7,1341.9 873.3,1341.9 873.3,1345.3 875.0,1345.3 875.0,1344.4 876.7,1344.4 876.7,1344.4 878.3,1344.4 878.3,1347.0 880.0,1345.7 881.7,1345.7 881.7,1346.3 883.3,1346.3 883.3,1345.9 885.0,1345.9 885.0,1344.6 886.7,1344.6 886.7,1345.3 888.3,1345.3 888.3,1342.2 890.0,1342.2 890.0,1347.0 891.7,1347.0 891.7,1346.3 893.3,1346.3 893.3,1343.1 895.0,1343.1 895.0,1344.1 896.7,1344.1 896.7,1342.3 898.3,1342.3 898.3,1347.3 900.0,1347.3 900.0,1346.1 901.7,1346.1 901.7,1346.3 903.3,1346.3 903.3,1344.8 905.0,1344.8 905.0,1345.4 906.7,1345.4 906.7,1347.2 908.3,1347.2 908.3,1346.2 910.0,1346.5 911.7,1346.5 911.7,1347.8 913.3,1347.8 913.3,1344.8 915.0,1344.8 915.0,1346.2 916.7,1346.2 916.7,1349.2 918.3,1349.2 918.3,1346.8 920.0,1346.8 920.0,1349.4 921.7,1349.4 921.7,1343.0 923.3,1343.0 923.3,1347.8 925.0,1347.8 925.0,1349.7 926.7,1349.7 926.7,1347.5 928.3,1347.5 928.3,1347.8 930.0,1347.8 930.0,1349.3 931.7,1349.3 931.7,1345.0 933.3,1345.0 933.3,1347.8 935.0,1347.8 935.0,1344.6 936.7,1344.6 936.7,1343.0 938.3,1343.0 938.3,1346.3 940.0,1346.5 941.7,1346.5 941.7,1346.2 943.3,1346.2 943.3,1343.8 945.0,1343.8 945.0,1346.6 946.7,1346.6 946.7,1347.9 948.3,1347.9 948.3,1347.6 950.0,1347.6 950.0,1345.3 951.7,1345.3 951.7,1346.2 953.3,1346.2 953.3,1345.4 955.0,1345.4 955.0,1347.6 956.7,1347.6 956.7,1347.7 958.3,1347.7 958.3,1347.7 960.0,1347.3 961.7,1347.3 961.7,1348.4 963.3,1348.4 963.3,1346.3 965.0,1346.3 965.0,1347.7 966.7,1347.7 966.7,1344.1 968.3,1344.1 968.3,1346.1 970.0,1346.1 970.0,1348.9 971.7,1348.9 971.7,1346.0 973.3,1346.0 973.3,1347.3 975.0,1346.5 976.7,1346.5 976.7,1345.5 978.3,1345.5 978.3,1346.0 980.0,1346.0 980.0,1345.7 981.7,1345.7 981.7,1342.4 983.3,1342.4 983.3,1344.7 985.0,1344.1 986.7,1344.1 986.7,1342.7 988.3,1342.7 988.3,1341.8 990.0,1341.8 990.0,1343.6 991.7,1343.6 991.7,1345.0 993.3,1345.0 993.3,1341.2 995.0,1341.8 996.7,1341.8 996.7,1344.0 998.3,1344.0 998.3,1341.3 1000.0,1343.3 1001.7,1343.3 1001.7,1344.5 1003.3,1344.5 1003.3,1345.1 1005.0,1345.1 1005.0,1345.5 1006.7,1345.5 1006.7,1343.9 1008.3,1343.9 1008.3,1342.9 1010.0,1344.5 1011.7,1344.5 1011.7,1344.9 1013.3,1344.9 1013.3,1346.6 1015.0,1346.6 1015.0,1339.7 1016.7,1339.7 1016.7,1345.8 1018.3,1345.8 1018.3,1348.1 1020.0,1346.5 1021.7,1346.5 1021.7,1346.3 1023.3,1346.3 1023.3,1346.0 1025.0,1346.0 1025.0,1345.3 1026.7,1345.3 1026.7,1345.5 1028.3,1345.5 1028.3,1346.2 1030.0,1344.4 1031.7,1344.4 1031.7,1343.7 1033.3,1343.7 1033.3,1339.6 1034.9,1339.6 1034.9,1336.3 1036.6,1333.0 1038.3,1333.0 1038.3,1331.0 1040.0,1328.8 1041.6,1328.8 1041.6,1330.0 1043.2,1330.0 1043.2,1328.5 1044.9,1328.5 1044.9,1328.5 1046.5,1327.3 1048.2,1327.3 1048.2,1330.4 1050.0,1330.9 1051.7,1330.9 1051.7,1336.9 1053.3,1336.9 1053.3,1336.3 1055.0,1339.2 1056.6,1339.2 1056.6,1342.3 1058.2,1342.3 1058.2,1344.3 1059.8,1344.3 1059.8,1343.2 1061.4,1343.2 1061.4,1345.8 1063.0,1347.5 1064.9,1347.5 1064.9,1347.6 1066.9,1347.6 1066.9,1346.6 1068.8,1346.5 1072.0,1335.0 1074.0,1328.8 1075.3,1298.7 1076.3,1298.7 1077.6,1328.0 1078.6,1330.0 1079.5,1342.3 1082.0,1348.6 1083.6,1348.6 1083.6,1349.6 1085.2,1349.6 1085.2,1348.5 1086.9,1348.5 1086.9,1349.3 1088.5,1349.3 1088.5,1351.0 1090.1,1351.0 1090.1,1347.3 1091.8,1347.3 1091.8,1348.9 1093.4,1348.9 1093.4,1348.1 1095.0,1349.6 1096.7,1349.6 1096.7,1350.5 1098.3,1350.5 1098.3,1350.6 1100.0,1350.6 1100.0,1351.5 1101.7,1351.5 1101.7,1349.4 1103.3,1349.4 1103.3,1350.0 1105.0,1351.2 1106.8,1351.2 1106.8,1350.1 1108.5,1350.1 1108.5,1351.3 1110.2,1351.3 1110.2,1349.3 1112.0,1348.6 1113.6,1348.6 1113.6,1347.0 1115.2,1347.0 1115.2,1350.0 1116.8,1350.0 1116.8,1346.7 1118.4,1346.7 1118.4,1342.1 1120.0,1344.4 1121.8,1344.4 1121.8,1341.9 1123.5,1341.9 1123.5,1343.1 1125.2,1343.1 1125.2,1341.9 1127.0,1339.7 1129.0,1339.7 1129.0,1342.0 1131.0,1342.0 1131.0,1339.0 1133.0,1341.8 1135.0,1341.8 1135.0,1342.7 1137.0,1345.5 1138.6,1345.5 1138.6,1346.0 1140.2,1346.0 1140.2,1345.4 1141.8,1345.4 1141.8,1347.2 1143.4,1347.2 1143.4,1350.1 1145.0,1347.5 1146.7,1347.5 1146.7,1348.3 1148.3,1348.3 1148.3,1347.6 1150.0,1350.5 1151.7,1350.5 1151.7,1350.5 1153.3,1350.5 1153.3,1347.9 1155.0,1347.9 1155.0,1351.5 1156.7,1351.5 1156.7,1350.5 1158.3,1350.5 1158.3,1351.5 1160.0,1351.5 1160.0,1352.5 1161.7,1352.5 1161.7,1349.0 1163.3,1349.0 1163.3,1349.4 1165.0,1349.4 1165.0,1351.0 1166.7,1351.0 1166.7,1349.9 1168.3,1349.9 1168.3,1351.3 1170.0,1351.3 1171.7,1351.3 1171.7,1350.7 1173.3,1350.7 1173.3,1352.4 1175.0,1352.4 1175.0,1352.8 1176.7,1352.8 1176.7,1352.8 1178.3,1352.8 1178.3,1350.5 1180.0,1350.5 1180.0,1349.7 1181.7,1349.7 1181.7,1351.0 1183.3,1351.0 1183.3,1350.5 1185.0,1350.5 1186.7,1350.5 1186.7,1350.4 1188.3,1350.4 1188.3,1348.5 1190.0,1348.5 1190.0,1348.3 1191.7,1348.3 1191.7,1350.2 1193.3,1350.2 1193.3,1350.5 1195.0,1350.5 1195.0,1348.6 1196.7,1348.6 1196.7,1347.7 1198.3,1347.7 1198.3,1348.6 1200.0,1348.0 1202.0,1348.0 1202.0,1344.6 1204.0,1344.6 1206.5,1341.2 1208.5,1312.7 1212.4,1294.2 1214.0,1309.3 1215.0,1324.4 1217.5,1334.5 1219.8,1334.5 1219.8,1336.6 1222.0,1341.2 1223.6,1341.2 1223.6,1341.6 1225.2,1341.6 1225.2,1343.8 1226.8,1343.8 1226.8,1343.7 1228.4,1343.7 1228.4,1344.2 1230.0,1344.6 1231.8,1344.6 1231.8,1344.5 1233.5,1344.5 1233.5,1348.5 1235.2,1348.5 1235.2,1347.5 1237.0,1348.0 1238.8,1348.0 1238.8,1348.0 1240.5,1348.0 1240.5,1348.8 1242.2,1348.8 1242.2,1346.7 1244.0,1348.0 1246.5,1342.0 1249.0,1349.6 1250.8,1349.6 1250.8,1349.6 1252.7,1349.6 1252.7,1350.7 1254.5,1350.7 1254.5,1351.5 1256.3,1351.5 1256.3,1351.7 1258.2,1351.7 1258.2,1352.3 1260.0,1351.3 1261.7,1351.3 1261.7,1353.3 1263.3,1353.3 1263.3,1350.5 1265.0,1350.5 1265.0,1352.1 1266.7,1352.1 1266.7,1350.7 1268.3,1350.7 1268.3,1354.0 1270.0,1354.0 1270.0,1349.7 1271.7,1349.7 1271.7,1355.3 1273.3,1355.3 1273.3,1352.5 1275.0,1352.5 1275.0,1356.1 1276.7,1356.1 1276.7,1352.6 1278.3,1352.6 1278.3,1352.9 1280.0,1353.8 1281.7,1353.8 1281.7,1349.7 1283.3,1349.7 1283.3,1354.0 1285.0,1354.0 1285.0,1355.5 1286.7,1355.5 1286.7,1355.5 1288.3,1355.5 1288.3,1353.1 1290.0,1353.1 1290.0,1352.8 1291.7,1352.8 1291.7,1354.8 1293.3,1354.8 1293.3,1356.4 1295.0,1356.4 1295.0,1354.8 1296.7,1354.8 1296.7,1352.3 1298.3,1352.3 1298.3,1353.8 1300.0,1355.5 1301.7,1355.5 1301.7,1356.6 1303.3,1356.6 1303.3,1357.7 1305.0,1357.7 1305.0,1357.1 1306.7,1357.1 1306.7,1356.0 1308.3,1356.0 1308.3,1354.2 1310.0,1354.2 1310.0,1354.8 1311.7,1354.8 1311.7,1352.5 1313.3,1352.5 1313.3,1354.3 1315.0,1354.7 1316.8,1354.7 1316.8,1353.5 1318.6,1353.5 1318.6,1353.3 1320.4,1353.3 1320.4,1350.1 1322.2,1350.1 1322.2,1351.2 1324.0,1351.3 1326.0,1351.3 1326.0,1351.5 1328.0,1351.5 1328.0,1352.8 1330.0,1353.0 1331.6,1353.0 1331.6,1354.3 1333.2,1354.3 1333.2,1353.4 1334.8,1353.4 1334.8,1354.8 1336.4,1354.8 1336.4,1354.7 1338.0,1356.3 1339.7,1356.3 1339.7,1355.9 1341.4,1355.9 1341.4,1356.8 1343.1,1356.8 1343.1,1356.4 1344.8,1356.4 1344.8,1357.5 1346.5,1357.5 1346.5,1358.1 1348.2,1358.1 1348.2,1357.2 1349.9,1357.2 1349.9,1356.3 1351.6,1356.3 1351.6,1355.5 1353.3,1355.5 1353.3,1356.2 1355.0,1355.5 1356.7,1355.5 1356.7,1356.7 1358.4,1356.7 1358.4,1354.1 1360.1,1354.1 1360.1,1355.2 1361.9,1355.2 1361.9,1354.7 1363.6,1354.7 1363.6,1355.1 1365.3,1355.1 1365.3,1353.9 1367.0,1356.3 1368.7,1356.3 1368.7,1358.8 1370.3,1358.8 1370.3,1357.8 1372.0,1359.4 1373.9,1359.4 1373.9,1361.3 1375.8,1361.3 1375.8,1356.6 1377.7,1356.6 1377.7,1358.2 1379.6,1358.2 1379.6,1357.8 1381.5,1359.7" fill="none" stroke="#111" stroke-width="2.0" stroke-linejoin="round" />
<polyline points="177.0,1237.0 178.6,1237.0 178.6,1237.4 180.2,1237.4 180.2,1239.6 181.8,1239.6 181.8,1234.6 183.4,1234.6 183.4,1237.8 185.0,1238.5 186.7,1238.5 186.7,1239.6 188.3,1239.6 188.3,1241.1 190.0,1239.0 191.8,1239.0 191.8,1236.8 193.5,1236.8 193.5,1241.4 195.2,1241.4 195.2,1238.4 197.0,1240.0 199.0,1232.0 201.2,1220.0 204.0,1200.0 207.4,1166.0 209.5,1100.0 210.5,1073.0 212.3,1060.0 212.7,1049.5 214.0,1060.0 215.0,1073.0 215.5,1110.0 216.5,1150.0 218.0,1180.0 220.0,1208.0 223.0,1232.0 226.0,1243.0 228.0,1243.0 228.0,1244.0 230.0,1244.0 230.0,1242.2 232.0,1248.0 233.7,1248.0 233.7,1247.9 235.3,1247.9 235.3,1250.6 236.9,1250.6 236.9,1249.1 238.6,1250.5 240.3,1250.5 240.3,1250.7 242.1,1250.7 242.1,1249.4 243.8,1249.4 243.8,1251.6 245.6,1251.6 245.6,1252.6 247.3,1252.6 247.3,1251.5 249.0,1251.5 249.0,1250.8 250.8,1250.8 250.8,1254.7 252.5,1254.7 252.5,1252.3 254.3,1252.3 254.3,1254.7 256.0,1255.0 257.6,1255.0 257.6,1257.3 259.3,1257.3 259.3,1255.2 260.9,1255.2 260.9,1255.2 262.5,1255.2 262.5,1258.1 264.2,1258.1 264.2,1255.6 265.8,1255.6 265.8,1258.1 267.5,1258.1 267.5,1252.7 269.1,1252.7 269.1,1260.1 270.7,1260.1 270.7,1259.6 272.4,1259.6 272.4,1257.7 274.0,1258.8 275.6,1258.8 275.6,1259.4 277.2,1259.4 277.2,1257.7 278.8,1257.7 278.8,1260.9 280.4,1260.9 280.4,1259.4 282.0,1259.4 282.0,1261.0 283.6,1261.0 283.6,1261.1 285.2,1261.1 285.2,1260.5 286.8,1260.5 286.8,1260.8 288.4,1260.8 288.4,1261.2 290.0,1261.0 291.7,1261.0 291.7,1264.3 293.3,1264.3 293.3,1260.4 295.0,1260.4 295.0,1259.1 296.7,1259.1 296.7,1261.2 298.3,1261.2 298.3,1258.9 300.0,1258.9 300.0,1259.1 301.7,1259.1 301.7,1261.6 303.3,1261.6 303.3,1260.8 305.0,1262.0 306.7,1262.0 306.7,1260.5 308.3,1260.5 308.3,1261.0 310.0,1261.0 310.0,1259.4 311.7,1259.4 311.7,1261.9 313.3,1261.9 313.3,1259.4 315.0,1259.4 315.0,1261.0 316.7,1261.0 316.7,1259.0 318.3,1259.0 318.3,1260.8 320.0,1258.6 321.7,1258.6 321.7,1260.1 323.4,1260.1 323.4,1258.8 325.1,1258.8 325.1,1257.8 326.9,1257.8 326.9,1258.0 328.6,1258.0 328.6,1259.3 330.3,1259.3 330.3,1257.6 332.0,1258.6 334.0,1258.6 334.0,1258.9 336.0,1256.0 337.5,1251.6 340.4,1237.6 341.6,1215.4 344.0,1179.2 345.1,1150.0 345.8,1089.0 347.5,1087.0 347.5,986.0 348.7,948.0 349.9,936.0 350.7,948.0 352.2,986.0 352.2,1090.0 354.0,1092.0 354.5,1150.0 357.4,1167.5 359.7,1202.6 363.2,1220.1 365.0,1234.1 367.0,1234.1 367.0,1230.7 369.0,1235.0 371.4,1235.0 371.4,1232.3 373.7,1234.1 377.2,1215.4 379.6,1196.7 381.3,1173.4 381.9,1150.0 383.8,1082.0 385.6,1080.0 385.6,1007.0 387.9,1006.0 388.5,979.0 389.6,959.5 390.7,979.0 392.0,990.0 392.0,1086.0 393.6,1150.0 395.9,1161.7 397.1,1214.3 399.4,1243.5 402.9,1257.5 404.9,1257.5 404.9,1259.0 406.8,1259.0 406.8,1259.6 408.8,1262.1 410.5,1262.1 410.5,1261.4 412.3,1261.4 412.3,1266.9 414.0,1266.0 416.0,1266.0 416.0,1266.6 418.0,1266.6 418.0,1269.4 420.0,1270.1 421.6,1270.1 421.6,1270.5 423.2,1270.5 423.2,1270.1 424.8,1270.1 424.8,1268.0 426.4,1268.0 426.4,1273.5 428.0,1273.0 429.7,1273.0 429.7,1269.5 431.4,1269.5 431.4,1272.4 433.1,1272.4 433.1,1268.9 434.9,1268.9 434.9,1271.1 436.6,1271.1 436.6,1270.5 438.3,1270.5 438.3,1268.0 440.0,1268.2 441.7,1268.2 441.7,1268.4 443.3,1268.4 443.3,1268.7 445.0,1268.7 445.0,1264.4 446.7,1264.4 446.7,1260.2 448.3,1260.2 448.3,1264.1 450.0,1261.5 451.7,1261.5 451.7,1260.9 453.3,1260.9 453.3,1257.6 455.0,1257.6 455.0,1259.7 456.7,1259.7 456.7,1258.9 458.3,1258.9 458.3,1261.6 460.0,1258.6 461.8,1258.6 461.8,1259.9 463.5,1259.9 463.5,1262.2 465.2,1262.2 465.2,1255.4 467.0,1260.5 468.6,1260.5 468.6,1259.0 470.2,1259.0 470.2,1263.6 471.8,1263.6 471.8,1264.0 473.4,1264.0 473.4,1265.7 475.0,1268.2 476.7,1268.2 476.7,1266.0 478.3,1266.0 478.3,1269.6 480.0,1269.6 480.0,1266.8 481.7,1266.8 481.7,1269.5 483.3,1269.5 483.3,1273.1 485.0,1271.1 486.6,1271.1 486.6,1268.3 488.2,1268.3 488.2,1273.8 489.8,1273.8 489.8,1273.8 491.4,1273.8 491.4,1272.7 493.0,1275.0 494.7,1275.0 494.7,1275.9 496.4,1275.9 496.4,1276.0 498.1,1276.0 498.1,1277.5 499.9,1277.5 499.9,1274.7 501.6,1274.7 501.6,1276.3 503.3,1276.3 503.3,1275.4 505.0,1276.9 506.7,1276.9 506.7,1275.3 508.3,1275.3 508.3,1276.7 510.0,1276.7 510.0,1277.8 511.7,1277.8 511.7,1276.7 513.3,1276.7 513.3,1277.7 515.0,1277.7 515.0,1275.1 516.7,1275.1 516.7,1275.7 518.3,1275.7 518.3,1276.2 520.0,1276.2 520.0,1276.3 521.7,1276.3 521.7,1277.1 523.3,1277.1 523.3,1276.1 525.0,1276.1 525.0,1277.8 526.7,1277.8 526.7,1278.2 528.3,1278.2 528.3,1278.1 530.0,1277.9 531.7,1277.9 531.7,1278.2 533.3,1278.2 533.3,1275.0 535.0,1275.0 535.0,1276.8 536.7,1276.8 536.7,1280.2 538.3,1280.2 538.3,1277.0 540.0,1277.0 540.0,1277.4 541.7,1277.4 541.7,1278.4 543.3,1278.4 543.3,1278.8 545.0,1278.8 545.0,1275.6 546.7,1275.6 546.7,1276.4 548.3,1276.4 548.3,1279.1 550.0,1277.9 551.7,1277.9 551.7,1276.0 553.3,1276.0 553.3,1280.2 555.0,1280.2 555.0,1279.1 556.7,1279.1 556.7,1278.7 558.3,1278.7 558.3,1278.4 560.0,1278.4 560.0,1280.1 561.7,1280.1 561.7,1277.2 563.3,1277.2 563.3,1278.4 565.0,1278.4 565.0,1280.9 566.7,1280.9 566.7,1280.6 568.3,1280.6 568.3,1279.9 570.0,1279.8 571.7,1279.8 571.7,1280.6 573.3,1280.6 573.3,1278.0 575.0,1278.0 575.0,1281.2 576.7,1281.2 576.7,1277.8 578.3,1277.8 578.3,1278.9 580.0,1278.9 580.0,1280.4 581.7,1280.4 581.7,1282.3 583.3,1282.3 583.3,1283.3 585.0,1283.3 585.0,1281.6 586.7,1281.6 586.7,1284.3 588.3,1284.3 588.3,1281.4 590.0,1282.7 591.7,1282.7 591.7,1283.6 593.3,1283.6 593.3,1282.5 595.0,1282.5 595.0,1282.1 596.7,1282.1 596.7,1279.9 598.3,1279.9 598.3,1285.5 600.0,1285.5 600.0,1285.9 601.7,1285.9 601.7,1287.0 603.3,1287.0 603.3,1283.2 605.0,1284.6 606.7,1284.6 606.7,1283.0 608.4,1283.0 608.4,1281.6 610.1,1281.6 610.1,1287.4 611.9,1287.4 611.9,1283.7 613.6,1283.7 613.6,1284.2 615.3,1284.2 615.3,1282.8 617.0,1283.6 618.6,1283.6 618.6,1280.0 620.2,1280.0 620.2,1283.0 621.9,1283.0 621.9,1281.9 623.5,1281.9 623.5,1280.7 625.1,1280.7 625.1,1281.0 626.8,1281.0 626.8,1282.4 628.4,1282.4 628.4,1280.6 630.0,1279.8 631.8,1279.8 631.8,1278.5 633.5,1278.5 633.5,1275.5 635.2,1275.5 635.2,1274.7 637.0,1275.9 639.0,1275.9 639.0,1273.9 641.0,1271.0 643.0,1266.3 645.0,1272.0 646.8,1272.0 646.8,1276.4 648.5,1276.4 648.5,1280.6 650.3,1281.7 652.0,1281.7 652.0,1277.7 653.6,1277.7 653.6,1278.2 655.3,1278.2 655.3,1278.9 657.0,1276.0 660.0,1269.0 661.0,1248.6 662.3,1229.0 664.0,1210.9 666.0,1194.9 667.5,1192.6 670.0,1210.9 672.9,1228.0 675.7,1254.3 680.0,1269.0 681.9,1269.0 681.9,1274.9 683.8,1274.9 683.8,1277.6 685.7,1279.4 687.8,1279.4 687.8,1276.9 689.9,1276.9 689.9,1279.8 692.0,1281.7 693.7,1281.7 693.7,1284.1 695.3,1284.1 695.3,1283.7 697.0,1283.7 697.0,1284.0 698.6,1284.0 698.6,1283.0 700.3,1283.0 700.3,1286.6 702.0,1286.6 702.0,1282.2 703.6,1282.2 703.6,1283.0 705.3,1283.0 705.3,1287.3 706.9,1287.3 706.9,1284.8 708.6,1286.3 710.3,1286.3 710.3,1284.5 712.0,1284.5 712.0,1286.9 713.7,1286.9 713.7,1283.0 715.4,1283.0 715.4,1288.6 717.2,1288.6 717.2,1288.6 718.9,1288.6 718.9,1286.8 720.6,1286.8 720.6,1286.1 722.3,1286.1 722.3,1287.5 724.0,1287.5 724.0,1287.7 725.7,1288.6 727.3,1288.6 727.3,1291.0 728.9,1291.0 728.9,1290.7 730.5,1290.7 730.5,1287.6 732.1,1287.6 732.1,1285.8 733.7,1285.8 733.7,1286.3 735.4,1286.3 735.4,1289.3 737.0,1289.3 737.0,1284.8 738.6,1284.8 738.6,1286.4 740.2,1286.4 740.2,1282.8 741.8,1282.8 741.8,1288.8 743.4,1288.8 743.4,1283.3 745.0,1286.3 746.9,1286.3 746.9,1284.3 748.8,1284.3 748.8,1283.1 750.7,1283.1 750.7,1280.6 752.6,1279.4 754.5,1279.4 754.5,1278.0 756.3,1278.0 756.3,1275.9 758.1,1275.9 758.1,1272.2 760.0,1269.0 761.9,1269.0 761.9,1264.1 763.8,1264.1 763.8,1259.2 765.7,1255.4 767.4,1249.1 770.3,1254.3 775.0,1271.4 780.0,1285.1 781.9,1285.1 781.9,1286.0 783.8,1286.0 783.8,1287.3 785.7,1292.0 787.6,1292.0 787.6,1290.3 789.4,1290.3 789.4,1292.9 791.3,1292.9 791.3,1293.5 793.1,1293.5 793.1,1292.0 795.0,1293.0 796.7,1293.0 796.7,1296.0 798.3,1296.0 798.3,1293.7 800.0,1293.7 800.0,1292.1 801.7,1292.1 801.7,1291.5 803.3,1291.5 803.3,1293.6 805.0,1293.6 805.0,1293.4 806.7,1293.4 806.7,1293.4 808.3,1293.4 808.3,1295.9 810.0,1295.9 810.0,1295.6 811.7,1295.6 811.7,1293.3 813.3,1293.3 813.3,1293.4 815.0,1293.4 815.0,1295.6 816.7,1295.6 816.7,1291.1 818.3,1291.1 818.3,1294.0 820.0,1294.6 821.7,1294.6 821.7,1296.8 823.3,1296.8 823.3,1298.8 825.0,1298.8 825.0,1294.4 826.7,1294.4 826.7,1292.9 828.3,1292.9 828.3,1297.1 830.0,1297.1 830.0,1295.5 831.7,1295.5 831.7,1292.5 833.3,1292.5 833.3,1294.0 835.0,1294.0 835.0,1292.6 836.7,1292.6 836.7,1295.0 838.3,1295.0 838.3,1292.6 840.0,1293.8 841.7,1293.8 841.7,1293.8 843.3,1293.8 843.3,1294.7 845.0,1294.7 845.0,1294.2 846.7,1294.2 846.7,1295.2 848.3,1295.2 848.3,1295.1 850.0,1295.1 850.0,1295.8 851.7,1295.8 851.7,1293.6 853.3,1293.6 853.3,1297.0 855.0,1297.0 855.0,1295.7 856.7,1295.7 856.7,1298.3 858.3,1298.3 858.3,1297.3 860.0,1297.7 861.7,1297.7 861.7,1299.4 863.3,1299.4 863.3,1298.3 865.0,1298.3 865.0,1298.6 866.7,1298.6 866.7,1297.9 868.3,1297.9 868.3,1298.1 870.0,1298.1 870.0,1300.1 871.7,1300.1 871.7,1301.8 873.3,1301.8 873.3,1301.7 875.0,1301.7 875.0,1298.3 876.7,1298.3 876.7,1299.8 878.3,1299.8 878.3,1301.4 880.0,1300.1 881.7,1300.1 881.7,1302.7 883.4,1302.7 883.4,1302.4 885.1,1302.4 885.1,1299.0 886.8,1299.0 886.8,1304.4 888.5,1304.4 888.5,1301.9 890.2,1301.9 890.2,1298.5 891.9,1298.5 891.9,1299.9 893.6,1299.9 893.6,1300.6 895.3,1300.6 895.3,1299.6 897.0,1300.1 898.4,1278.9 899.8,1300.0 901.5,1300.0 901.5,1297.2 903.3,1297.2 903.3,1301.1 905.0,1298.5 906.7,1298.5 906.7,1299.4 908.3,1299.4 908.3,1300.6 910.0,1300.6 910.0,1298.7 911.7,1298.7 911.7,1299.5 913.3,1299.5 913.3,1299.1 915.0,1299.1 915.0,1300.1 916.7,1300.1 916.7,1299.4 918.3,1299.4 918.3,1300.9 920.0,1300.9 920.0,1301.0 921.7,1301.0 921.7,1301.0 923.3,1301.0 923.3,1299.8 925.0,1299.8 925.0,1301.4 926.7,1301.4 926.7,1298.9 928.3,1298.9 928.3,1299.8 930.0,1300.9 931.7,1300.9 931.7,1301.6 933.3,1301.6 933.3,1301.1 935.0,1301.1 935.0,1302.2 936.7,1302.2 936.7,1301.1 938.3,1301.1 938.3,1300.1 940.0,1300.1 940.0,1301.6 941.7,1301.6 941.7,1301.5 943.3,1301.5 943.3,1301.7 945.0,1301.7 945.0,1301.5 946.7,1301.5 946.7,1300.2 948.3,1300.2 948.3,1299.9 950.0,1302.5 951.7,1302.5 951.7,1304.4 953.3,1304.4 953.3,1300.7 955.0,1300.7 955.0,1303.5 956.7,1303.5 956.7,1302.7 958.3,1302.7 958.3,1301.1 960.0,1301.7 961.6,1301.7 961.6,1301.3 963.3,1301.3 963.3,1301.6 964.9,1301.6 964.9,1302.0 966.5,1302.0 966.5,1301.2 968.2,1301.2 968.2,1301.2 969.8,1301.2 969.8,1301.6 971.5,1301.6 971.5,1303.2 973.1,1303.2 973.1,1298.9 974.7,1298.9 974.7,1299.4 976.4,1299.4 976.4,1301.3 978.0,1300.9 979.8,1300.9 979.8,1300.7 981.5,1300.7 981.5,1303.3 983.2,1303.3 983.2,1299.1 985.0,1297.7 986.9,1297.7 986.9,1297.7 988.9,1297.7 988.9,1295.5 990.8,1293.1 992.4,1293.1 992.4,1287.9 994.0,1286.0 997.0,1283.6 999.0,1287.0 1001.1,1287.0 1001.1,1290.1 1003.2,1296.2 1004.9,1296.2 1004.9,1295.7 1006.6,1295.7 1006.6,1299.3 1008.3,1299.3 1008.3,1299.4 1010.0,1299.0 1011.7,1299.0 1011.7,1297.3 1013.3,1297.3 1013.3,1297.5 1015.0,1297.5 1015.0,1297.7 1016.7,1297.7 1016.7,1299.5 1018.3,1299.5 1018.3,1296.0 1020.0,1299.7 1023.0,1302.3 1024.8,1302.3 1024.8,1301.0 1026.5,1301.0 1026.5,1298.9 1028.2,1298.9 1028.2,1298.3 1030.0,1296.6 1031.9,1296.6 1031.9,1293.4 1033.7,1293.4 1033.7,1291.1 1035.6,1288.3 1037.8,1288.3 1037.8,1285.0 1040.0,1279.0 1043.0,1267.5 1045.7,1252.0 1048.6,1241.6 1050.1,1241.0 1051.8,1241.0 1051.8,1244.5 1053.5,1246.8 1055.5,1262.3 1057.4,1274.8 1060.0,1288.3 1062.0,1288.3 1062.0,1294.5 1064.1,1294.5 1065.8,1294.5 1065.8,1292.8 1067.5,1292.5 1068.2,1283.1 1070.3,1240.5 1071.8,1237.4 1073.2,1217.7 1074.5,1237.4 1075.9,1238.4 1076.5,1279.0 1078.6,1290.4 1082.3,1299.7 1084.7,1299.7 1084.7,1298.3 1087.0,1302.9 1088.6,1302.9 1088.6,1301.9 1090.2,1301.9 1090.2,1302.0 1091.9,1302.0 1091.9,1297.9 1093.5,1297.9 1093.5,1303.8 1095.1,1303.8 1095.1,1305.6 1096.8,1305.6 1096.8,1305.1 1098.4,1305.1 1098.4,1303.5 1100.0,1303.9 1101.6,1303.9 1101.6,1303.4 1103.2,1303.4 1103.2,1302.3 1104.9,1302.3 1104.9,1304.1 1106.5,1304.1 1106.5,1303.2 1108.1,1303.2 1108.1,1304.0 1109.8,1304.0 1109.8,1303.9 1111.4,1303.9 1111.4,1303.4 1113.0,1302.9 1114.8,1302.9 1114.8,1306.4 1116.5,1306.4 1116.5,1300.7 1118.2,1300.7 1118.2,1301.2 1120.0,1299.7 1121.6,1299.7 1121.6,1298.8 1123.2,1298.8 1123.2,1294.2 1124.8,1294.2 1124.8,1293.1 1126.4,1293.1 1126.4,1288.3 1128.0,1289.4 1130.6,1279.0 1132.0,1271.7 1134.0,1271.7 1137.0,1281.0 1139.0,1281.0 1139.0,1285.9 1141.0,1289.4 1142.7,1289.4 1142.7,1292.9 1144.3,1292.9 1144.3,1298.4 1146.0,1298.7 1147.8,1298.7 1147.8,1300.0 1149.5,1300.0 1149.5,1301.1 1151.2,1301.1 1151.2,1303.0 1153.0,1302.5 1154.8,1302.5 1154.8,1302.4 1156.5,1302.4 1156.5,1303.1 1158.2,1303.1 1158.2,1304.5 1160.0,1303.5 1161.7,1303.5 1161.7,1301.3 1163.3,1301.3 1163.3,1302.0 1165.0,1302.0 1165.0,1302.9 1166.7,1302.9 1166.7,1302.2 1168.3,1302.2 1168.3,1304.4 1170.0,1304.4 1170.0,1304.1 1171.7,1304.1 1171.7,1304.3 1173.3,1304.3 1173.3,1302.2 1175.0,1304.3 1176.7,1304.3 1176.7,1305.0 1178.3,1305.0 1178.3,1302.7 1180.0,1302.7 1180.0,1302.4 1181.7,1302.4 1181.7,1304.0 1183.3,1304.0 1183.3,1305.1 1185.0,1303.5 1186.6,1303.5 1186.6,1302.0 1188.2,1302.0 1188.2,1303.3 1189.8,1303.3 1189.8,1300.0 1191.4,1300.0 1191.4,1302.0 1193.0,1301.0 1194.8,1301.0 1194.8,1301.0 1196.5,1301.0 1196.5,1297.8 1198.2,1297.8 1198.2,1298.0 1200.0,1297.6 1202.4,1294.2 1203.7,1284.2 1205.0,1257.3 1206.4,1203.6 1207.7,1188.5 1209.2,1195.2 1210.4,1232.1 1212.0,1264.0 1214.0,1279.1 1215.8,1279.1 1215.8,1283.0 1217.5,1285.8 1219.2,1285.8 1219.2,1282.5 1221.0,1282.5 1223.2,1282.5 1223.2,1278.8 1225.5,1276.6 1227.2,1276.6 1227.2,1281.3 1229.0,1282.5 1231.0,1282.5 1231.0,1287.0 1233.0,1287.0 1233.0,1286.1 1235.0,1290.9 1236.8,1290.9 1236.8,1292.8 1238.5,1292.8 1238.5,1293.9 1240.2,1293.9 1240.2,1294.3 1242.0,1295.9 1243.6,1295.9 1243.6,1298.2 1245.2,1298.2 1245.2,1299.4 1246.8,1299.4 1246.8,1297.4 1248.4,1297.4 1248.4,1299.3 1250.0,1299.3 1251.6,1299.3 1251.6,1301.7 1253.2,1301.7 1253.2,1300.8 1254.8,1300.8 1254.8,1306.1 1256.4,1306.1 1256.4,1302.3 1258.0,1304.3 1259.7,1304.3 1259.7,1305.7 1261.4,1305.7 1261.4,1306.1 1263.1,1306.1 1263.1,1306.0 1264.9,1306.0 1264.9,1308.4 1266.6,1308.4 1266.6,1308.2 1268.3,1308.2 1268.3,1306.5 1270.0,1308.5 1271.6,1308.5 1271.6,1306.0 1273.2,1306.0 1273.2,1308.3 1274.9,1308.3 1274.9,1310.4 1276.5,1310.4 1276.5,1309.7 1278.1,1309.7 1278.1,1311.2 1279.8,1311.2 1279.8,1311.0 1281.4,1311.0 1281.4,1309.2 1283.0,1312.7 1284.7,1312.7 1284.7,1312.8 1286.4,1312.8 1286.4,1311.9 1288.1,1311.9 1288.1,1313.3 1289.8,1313.3 1289.8,1312.7 1291.5,1312.7 1291.5,1312.6 1293.2,1312.6 1293.2,1313.7 1294.9,1313.7 1294.9,1313.1 1296.6,1313.1 1296.6,1314.2 1298.3,1314.2 1298.3,1310.7 1300.0,1313.5 1301.7,1313.5 1301.7,1316.2 1303.4,1316.2 1303.4,1314.4 1305.1,1314.4 1305.1,1313.0 1306.9,1313.0 1306.9,1310.6 1308.6,1310.6 1308.6,1313.9 1310.3,1313.9 1310.3,1313.8 1312.0,1312.7 1314.0,1312.7 1314.0,1308.9 1316.0,1307.7 1319.0,1297.6 1320.8,1297.6 1320.8,1296.0 1322.5,1295.1 1325.0,1301.0 1326.7,1301.0 1326.7,1305.7 1328.3,1305.7 1328.3,1308.9 1330.0,1312.7 1331.7,1312.7 1331.7,1311.7 1333.3,1311.7 1333.3,1312.3 1335.0,1312.3 1335.0,1316.5 1336.7,1316.5 1336.7,1314.3 1338.3,1314.3 1338.3,1311.3 1340.0,1314.4 1341.7,1314.4 1341.7,1314.2 1343.4,1314.2 1343.4,1313.8 1345.1,1313.8 1345.1,1315.7 1346.9,1315.7 1346.9,1312.8 1348.6,1312.8 1348.6,1314.2 1350.3,1314.2 1350.3,1313.2 1352.0,1311.8 1354.0,1311.8 1354.0,1308.8 1356.0,1308.8 1356.0,1307.1 1358.0,1306.0 1360.0,1306.0 1360.0,1307.0 1362.0,1309.3 1363.7,1309.3 1363.7,1313.2 1365.3,1313.2 1365.3,1317.2 1367.0,1316.9 1369.0,1316.9 1369.0,1317.1 1371.0,1317.1 1371.0,1320.9 1373.0,1321.1 1374.7,1321.1 1374.7,1321.4 1376.4,1321.4 1376.4,1321.9 1378.1,1321.9 1378.1,1321.2 1379.8,1321.2 1379.8,1324.8 1381.5,1323.6" fill="none" stroke="#a21c1c" stroke-width="1.8" stroke-linejoin="round" />
<path d="M177.0,1237.0 L178.6,1237.0 L178.6,1237.4 L180.2,1237.4 L180.2,1239.6 L181.8,1239.6 M181.8,1234.6 L183.4,1234.6 L183.4,1237.8 L185.0,1238.5 L186.7,1238.5 L186.7,1239.6 L188.3,1239.6 L188.3,1241.1 L190.0,1239.0 L191.8,1239.0 L191.8,1236.8 L193.5,1236.8 M193.5,1241.4 L195.2,1241.4 L195.2,1238.4 L197.0,1240.0 M226.0,1243.0 L228.0,1243.0 L228.0,1244.0 L230.0,1244.0 L230.0,1242.2 M232.0,1248.0 L233.7,1248.0 L233.7,1247.9 L235.3,1247.9 L235.3,1250.6 L236.9,1250.6 L236.9,1249.1 L238.6,1250.5 L240.3,1250.5 L240.3,1250.7 L242.1,1250.7 L242.1,1249.4 L243.8,1249.4 L243.8,1251.6 L245.6,1251.6 L245.6,1252.6 L247.3,1252.6 L247.3,1251.5 L249.0,1251.5 L249.0,1250.8 L250.8,1250.8 M250.8,1254.7 L252.5,1254.7 L252.5,1252.3 L254.3,1252.3 L254.3,1254.7 L256.0,1255.0 L257.6,1255.0 L257.6,1257.3 L259.3,1257.3 L259.3,1255.2 L260.9,1255.2 L260.9,1255.2 L262.5,1255.2 L262.5,1258.1 L264.2,1258.1 L264.2,1255.6 L265.8,1255.6 L265.8,1258.1 L267.5,1258.1 M267.5,1252.7 L269.1,1252.7 M269.1,1260.1 L270.7,1260.1 L270.7,1259.6 L272.4,1259.6 L272.4,1257.7 L274.0,1258.8 L275.6,1258.8 L275.6,1259.4 L277.2,1259.4 L277.2,1257.7 L278.8,1257.7 L278.8,1260.9 L280.4,1260.9 L280.4,1259.4 L282.0,1259.4 L282.0,1261.0 L283.6,1261.0 L283.6,1261.1 L285.2,1261.1 L285.2,1260.5 L286.8,1260.5 L286.8,1260.8 L288.4,1260.8 L288.4,1261.2 L290.0,1261.0 L291.7,1261.0 L291.7,1264.3 L293.3,1264.3 M293.3,1260.4 L295.0,1260.4 L295.0,1259.1 L296.7,1259.1 L296.7,1261.2 L298.3,1261.2 L298.3,1258.9 L300.0,1258.9 L300.0,1259.1 L301.7,1259.1 L301.7,1261.6 L303.3,1261.6 L303.3,1260.8 L305.0,1262.0 L306.7,1262.0 L306.7,1260.5 L308.3,1260.5 L308.3,1261.0 L310.0,1261.0 L310.0,1259.4 L311.7,1259.4 L311.7,1261.9 L313.3,1261.9 L313.3,1259.4 L315.0,1259.4 L315.0,1261.0 L316.7,1261.0 L316.7,1259.0 L318.3,1259.0 L318.3,1260.8 L320.0,1258.6 L321.7,1258.6 L321.7,1260.1 L323.4,1260.1 L323.4,1258.8 L325.1,1258.8 L325.1,1257.8 L326.9,1257.8 L326.9,1258.0 L328.6,1258.0 L328.6,1259.3 L330.3,1259.3 L330.3,1257.6 L332.0,1258.6 L334.0,1258.6 L334.0,1258.9 L336.0,1256.0 M345.8,1089.0 L347.5,1087.0 M352.2,1090.0 L354.0,1092.0 M365.0,1234.1 L367.0,1234.1 L367.0,1230.7 M369.0,1235.0 L371.4,1235.0 L371.4,1232.3 L373.7,1234.1 M383.8,1082.0 L385.6,1080.0 M385.6,1007.0 L387.9,1006.0 M402.9,1257.5 L404.9,1257.5 L404.9,1259.0 L406.8,1259.0 L406.8,1259.6 L408.8,1262.1 L410.5,1262.1 L410.5,1261.4 L412.3,1261.4 M412.3,1266.9 L414.0,1266.0 L416.0,1266.0 L416.0,1266.6 L418.0,1266.6 L418.0,1269.4 L420.0,1270.1 L421.6,1270.1 L421.6,1270.5 L423.2,1270.5 L423.2,1270.1 L424.8,1270.1 L424.8,1268.0 L426.4,1268.0 M426.4,1273.5 L428.0,1273.0 L429.7,1273.0 L429.7,1269.5 L431.4,1269.5 L431.4,1272.4 L433.1,1272.4 M433.1,1268.9 L434.9,1268.9 L434.9,1271.1 L436.6,1271.1 L436.6,1270.5 L438.3,1270.5 L438.3,1268.0 L440.0,1268.2 L441.7,1268.2 L441.7,1268.4 L443.3,1268.4 L443.3,1268.7 L445.0,1268.7 M445.0,1264.4 L446.7,1264.4 M446.7,1260.2 L448.3,1260.2 M448.3,1264.1 L450.0,1261.5 L451.7,1261.5 L451.7,1260.9 L453.3,1260.9 L453.3,1257.6 L455.0,1257.6 L455.0,1259.7 L456.7,1259.7 L456.7,1258.9 L458.3,1258.9 L458.3,1261.6 L460.0,1258.6 L461.8,1258.6 L461.8,1259.9 L463.5,1259.9 L463.5,1262.2 L465.2,1262.2 M467.0,1260.5 L468.6,1260.5 L468.6,1259.0 L470.2,1259.0 M470.2,1263.6 L471.8,1263.6 L471.8,1264.0 L473.4,1264.0 L473.4,1265.7 L475.0,1268.2 L476.7,1268.2 L476.7,1266.0 L478.3,1266.0 M478.3,1269.6 L480.0,1269.6 L480.0,1266.8 L481.7,1266.8 L481.7,1269.5 L483.3,1269.5 M483.3,1273.1 L485.0,1271.1 L486.6,1271.1 L486.6,1268.3 L488.2,1268.3 M488.2,1273.8 L489.8,1273.8 L489.8,1273.8 L491.4,1273.8 L491.4,1272.7 L493.0,1275.0 L494.7,1275.0 L494.7,1275.9 L496.4,1275.9 L496.4,1276.0 L498.1,1276.0 L498.1,1277.5 L499.9,1277.5 L499.9,1274.7 L501.6,1274.7 L501.6,1276.3 L503.3,1276.3 L503.3,1275.4 L505.0,1276.9 L506.7,1276.9 L506.7,1275.3 L508.3,1275.3 L508.3,1276.7 L510.0,1276.7 L510.0,1277.8 L511.7,1277.8 L511.7,1276.7 L513.3,1276.7 L513.3,1277.7 L515.0,1277.7 L515.0,1275.1 L516.7,1275.1 L516.7,1275.7 L518.3,1275.7 L518.3,1276.2 L520.0,1276.2 L520.0,1276.3 L521.7,1276.3 L521.7,1277.1 L523.3,1277.1 L523.3,1276.1 L525.0,1276.1 L525.0,1277.8 L526.7,1277.8 L526.7,1278.2 L528.3,1278.2 L528.3,1278.1 L530.0,1277.9 L531.7,1277.9 L531.7,1278.2 L533.3,1278.2 L533.3,1275.0 L535.0,1275.0 L535.0,1276.8 L536.7,1276.8 L536.7,1280.2 L538.3,1280.2 L538.3,1277.0 L540.0,1277.0 L540.0,1277.4 L541.7,1277.4 L541.7,1278.4 L543.3,1278.4 L543.3,1278.8 L545.0,1278.8 L545.0,1275.6 L546.7,1275.6 L546.7,1276.4 L548.3,1276.4 L548.3,1279.1 L550.0,1277.9 L551.7,1277.9 L551.7,1276.0 L553.3,1276.0 M553.3,1280.2 L555.0,1280.2 L555.0,1279.1 L556.7,1279.1 L556.7,1278.7 L558.3,1278.7 L558.3,1278.4 L560.0,1278.4 L560.0,1280.1 L561.7,1280.1 L561.7,1277.2 L563.3,1277.2 L563.3,1278.4 L565.0,1278.4 L565.0,1280.9 L566.7,1280.9 L566.7,1280.6 L568.3,1280.6 L568.3,1279.9 L570.0,1279.8 L571.7,1279.8 L571.7,1280.6 L573.3,1280.6 L573.3,1278.0 L575.0,1278.0 L575.0,1281.2 L576.7,1281.2 L576.7,1277.8 L578.3,1277.8 L578.3,1278.9 L580.0,1278.9 L580.0,1280.4 L581.7,1280.4 L581.7,1282.3 L583.3,1282.3 L583.3,1283.3 L585.0,1283.3 L585.0,1281.6 L586.7,1281.6 L586.7,1284.3 L588.3,1284.3 L588.3,1281.4 L590.0,1282.7 L591.7,1282.7 L591.7,1283.6 L593.3,1283.6 L593.3,1282.5 L595.0,1282.5 L595.0,1282.1 L596.7,1282.1 L596.7,1279.9 L598.3,1279.9 M598.3,1285.5 L600.0,1285.5 L600.0,1285.9 L601.7,1285.9 L601.7,1287.0 L603.3,1287.0 M603.3,1283.2 L605.0,1284.6 L606.7,1284.6 L606.7,1283.0 L608.4,1283.0 L608.4,1281.6 L610.1,1281.6 M610.1,1287.4 L611.9,1287.4 M611.9,1283.7 L613.6,1283.7 L613.6,1284.2 L615.3,1284.2 L615.3,1282.8 L617.0,1283.6 L618.6,1283.6 M618.6,1280.0 L620.2,1280.0 L620.2,1283.0 L621.9,1283.0 L621.9,1281.9 L623.5,1281.9 L623.5,1280.7 L625.1,1280.7 L625.1,1281.0 L626.8,1281.0 L626.8,1282.4 L628.4,1282.4 L628.4,1280.6 L630.0,1279.8 L631.8,1279.8 L631.8,1278.5 L633.5,1278.5 L633.5,1275.5 L635.2,1275.5 L635.2,1274.7 L637.0,1275.9 L639.0,1275.9 L639.0,1273.9 L641.0,1271.0 M645.0,1272.0 L646.8,1272.0 M646.8,1276.4 L648.5,1276.4 M648.5,1280.6 L650.3,1281.7 L652.0,1281.7 M652.0,1277.7 L653.6,1277.7 L653.6,1278.2 L655.3,1278.2 L655.3,1278.9 L657.0,1276.0 M666.0,1194.9 L667.5,1192.6 M680.0,1269.0 L681.9,1269.0 M681.9,1274.9 L683.8,1274.9 L683.8,1277.6 L685.7,1279.4 L687.8,1279.4 L687.8,1276.9 L689.9,1276.9 L689.9,1279.8 L692.0,1281.7 L693.7,1281.7 L693.7,1284.1 L695.3,1284.1 L695.3,1283.7 L697.0,1283.7 L697.0,1284.0 L698.6,1284.0 L698.6,1283.0 L700.3,1283.0 M700.3,1286.6 L702.0,1286.6 M702.0,1282.2 L703.6,1282.2 L703.6,1283.0 L705.3,1283.0 M705.3,1287.3 L706.9,1287.3 L706.9,1284.8 L708.6,1286.3 L710.3,1286.3 L710.3,1284.5 L712.0,1284.5 L712.0,1286.9 L713.7,1286.9 M713.7,1283.0 L715.4,1283.0 M715.4,1288.6 L717.2,1288.6 L717.2,1288.6 L718.9,1288.6 L718.9,1286.8 L720.6,1286.8 L720.6,1286.1 L722.3,1286.1 L722.3,1287.5 L724.0,1287.5 L724.0,1287.7 L725.7,1288.6 L727.3,1288.6 L727.3,1291.0 L728.9,1291.0 L728.9,1290.7 L730.5,1290.7 L730.5,1287.6 L732.1,1287.6 L732.1,1285.8 L733.7,1285.8 L733.7,1286.3 L735.4,1286.3 L735.4,1289.3 L737.0,1289.3 M737.0,1284.8 L738.6,1284.8 L738.6,1286.4 L740.2,1286.4 M740.2,1282.8 L741.8,1282.8 M741.8,1288.8 L743.4,1288.8 M743.4,1283.3 L745.0,1286.3 L746.9,1286.3 L746.9,1284.3 L748.8,1284.3 L748.8,1283.1 L750.7,1283.1 L750.7,1280.6 L752.6,1279.4 L754.5,1279.4 L754.5,1278.0 L756.3,1278.0 L756.3,1275.9 L758.1,1275.9 M758.1,1272.2 L760.0,1269.0 L761.9,1269.0 M761.9,1264.1 L763.8,1264.1 M780.0,1285.1 L781.9,1285.1 L781.9,1286.0 L783.8,1286.0 L783.8,1287.3 M785.7,1292.0 L787.6,1292.0 L787.6,1290.3 L789.4,1290.3 L789.4,1292.9 L791.3,1292.9 L791.3,1293.5 L793.1,1293.5 L793.1,1292.0 L795.0,1293.0 L796.7,1293.0 L796.7,1296.0 L798.3,1296.0 L798.3,1293.7 L800.0,1293.7 L800.0,1292.1 L801.7,1292.1 L801.7,1291.5 L803.3,1291.5 L803.3,1293.6 L805.0,1293.6 L805.0,1293.4 L806.7,1293.4 L806.7,1293.4 L808.3,1293.4 L808.3,1295.9 L810.0,1295.9 L810.0,1295.6 L811.7,1295.6 L811.7,1293.3 L813.3,1293.3 L813.3,1293.4 L815.0,1293.4 L815.0,1295.6 L816.7,1295.6 M816.7,1291.1 L818.3,1291.1 L818.3,1294.0 L820.0,1294.6 L821.7,1294.6 L821.7,1296.8 L823.3,1296.8 L823.3,1298.8 L825.0,1298.8 M825.0,1294.4 L826.7,1294.4 L826.7,1292.9 L828.3,1292.9 M828.3,1297.1 L830.0,1297.1 L830.0,1295.5 L831.7,1295.5 L831.7,1292.5 L833.3,1292.5 L833.3,1294.0 L835.0,1294.0 L835.0,1292.6 L836.7,1292.6 L836.7,1295.0 L838.3,1295.0 L838.3,1292.6 L840.0,1293.8 L841.7,1293.8 L841.7,1293.8 L843.3,1293.8 L843.3,1294.7 L845.0,1294.7 L845.0,1294.2 L846.7,1294.2 L846.7,1295.2 L848.3,1295.2 L848.3,1295.1 L850.0,1295.1 L850.0,1295.8 L851.7,1295.8 L851.7,1293.6 L853.3,1293.6 L853.3,1297.0 L855.0,1297.0 L855.0,1295.7 L856.7,1295.7 L856.7,1298.3 L858.3,1298.3 L858.3,1297.3 L860.0,1297.7 L861.7,1297.7 L861.7,1299.4 L863.3,1299.4 L863.3,1298.3 L865.0,1298.3 L865.0,1298.6 L866.7,1298.6 L866.7,1297.9 L868.3,1297.9 L868.3,1298.1 L870.0,1298.1 L870.0,1300.1 L871.7,1300.1 L871.7,1301.8 L873.3,1301.8 L873.3,1301.7 L875.0,1301.7 L875.0,1298.3 L876.7,1298.3 L876.7,1299.8 L878.3,1299.8 L878.3,1301.4 L880.0,1300.1 L881.7,1300.1 L881.7,1302.7 L883.4,1302.7 L883.4,1302.4 L885.1,1302.4 L885.1,1299.0 L886.8,1299.0 M886.8,1304.4 L888.5,1304.4 L888.5,1301.9 L890.2,1301.9 L890.2,1298.5 L891.9,1298.5 L891.9,1299.9 L893.6,1299.9 L893.6,1300.6 L895.3,1300.6 L895.3,1299.6 L897.0,1300.1 M899.8,1300.0 L901.5,1300.0 L901.5,1297.2 L903.3,1297.2 M903.3,1301.1 L905.0,1298.5 L906.7,1298.5 L906.7,1299.4 L908.3,1299.4 L908.3,1300.6 L910.0,1300.6 L910.0,1298.7 L911.7,1298.7 L911.7,1299.5 L913.3,1299.5 L913.3,1299.1 L915.0,1299.1 L915.0,1300.1 L916.7,1300.1 L916.7,1299.4 L918.3,1299.4 L918.3,1300.9 L920.0,1300.9 L920.0,1301.0 L921.7,1301.0 L921.7,1301.0 L923.3,1301.0 L923.3,1299.8 L925.0,1299.8 L925.0,1301.4 L926.7,1301.4 L926.7,1298.9 L928.3,1298.9 L928.3,1299.8 L930.0,1300.9 L931.7,1300.9 L931.7,1301.6 L933.3,1301.6 L933.3,1301.1 L935.0,1301.1 L935.0,1302.2 L936.7,1302.2 L936.7,1301.1 L938.3,1301.1 L938.3,1300.1 L940.0,1300.1 L940.0,1301.6 L941.7,1301.6 L941.7,1301.5 L943.3,1301.5 L943.3,1301.7 L945.0,1301.7 L945.0,1301.5 L946.7,1301.5 L946.7,1300.2 L948.3,1300.2 L948.3,1299.9 L950.0,1302.5 L951.7,1302.5 L951.7,1304.4 L953.3,1304.4 M953.3,1300.7 L955.0,1300.7 L955.0,1303.5 L956.7,1303.5 L956.7,1302.7 L958.3,1302.7 L958.3,1301.1 L960.0,1301.7 L961.6,1301.7 L961.6,1301.3 L963.3,1301.3 L963.3,1301.6 L964.9,1301.6 L964.9,1302.0 L966.5,1302.0 L966.5,1301.2 L968.2,1301.2 L968.2,1301.2 L969.8,1301.2 L969.8,1301.6 L971.5,1301.6 L971.5,1303.2 L973.1,1303.2 M973.1,1298.9 L974.7,1298.9 L974.7,1299.4 L976.4,1299.4 L976.4,1301.3 L978.0,1300.9 L979.8,1300.9 L979.8,1300.7 L981.5,1300.7 L981.5,1303.3 L983.2,1303.3 M983.2,1299.1 L985.0,1297.7 L986.9,1297.7 L986.9,1297.7 L988.9,1297.7 L988.9,1295.5 L990.8,1293.1 L992.4,1293.1 M992.4,1287.9 L994.0,1286.0 L997.0,1283.6 L999.0,1287.0 L1001.1,1287.0 L1001.1,1290.1 M1003.2,1296.2 L1004.9,1296.2 L1004.9,1295.7 L1006.6,1295.7 M1006.6,1299.3 L1008.3,1299.3 L1008.3,1299.4 L1010.0,1299.0 L1011.7,1299.0 L1011.7,1297.3 L1013.3,1297.3 L1013.3,1297.5 L1015.0,1297.5 L1015.0,1297.7 L1016.7,1297.7 L1016.7,1299.5 L1018.3,1299.5 M1020.0,1299.7 L1023.0,1302.3 L1024.8,1302.3 L1024.8,1301.0 L1026.5,1301.0 L1026.5,1298.9 L1028.2,1298.9 L1028.2,1298.3 L1030.0,1296.6 L1031.9,1296.6 L1031.9,1293.4 L1033.7,1293.4 L1033.7,1291.1 L1035.6,1288.3 L1037.8,1288.3 L1037.8,1285.0 M1048.6,1241.6 L1050.1,1241.0 L1051.8,1241.0 M1051.8,1244.5 L1053.5,1246.8 M1060.0,1288.3 L1062.0,1288.3 M1062.0,1294.5 L1064.1,1294.5 L1065.8,1294.5 L1065.8,1292.8 L1067.5,1292.5 M1070.3,1240.5 L1071.8,1237.4 M1074.5,1237.4 L1075.9,1238.4 M1082.3,1299.7 L1084.7,1299.7 L1084.7,1298.3 M1087.0,1302.9 L1088.6,1302.9 L1088.6,1301.9 L1090.2,1301.9 L1090.2,1302.0 L1091.9,1302.0 M1091.9,1297.9 L1093.5,1297.9 M1093.5,1303.8 L1095.1,1303.8 L1095.1,1305.6 L1096.8,1305.6 L1096.8,1305.1 L1098.4,1305.1 L1098.4,1303.5 L1100.0,1303.9 L1101.6,1303.9 L1101.6,1303.4 L1103.2,1303.4 L1103.2,1302.3 L1104.9,1302.3 L1104.9,1304.1 L1106.5,1304.1 L1106.5,1303.2 L1108.1,1303.2 L1108.1,1304.0 L1109.8,1304.0 L1109.8,1303.9 L1111.4,1303.9 L1111.4,1303.4 L1113.0,1302.9 L1114.8,1302.9 M1114.8,1306.4 L1116.5,1306.4 M1116.5,1300.7 L1118.2,1300.7 L1118.2,1301.2 L1120.0,1299.7 L1121.6,1299.7 L1121.6,1298.8 L1123.2,1298.8 M1123.2,1294.2 L1124.8,1294.2 L1124.8,1293.1 L1126.4,1293.1 M1126.4,1288.3 L1128.0,1289.4 M1132.0,1271.7 L1134.0,1271.7 M1137.0,1281.0 L1139.0,1281.0 M1139.0,1285.9 L1141.0,1289.4 L1142.7,1289.4 M1142.7,1292.9 L1144.3,1292.9 M1144.3,1298.4 L1146.0,1298.7 L1147.8,1298.7 L1147.8,1300.0 L1149.5,1300.0 L1149.5,1301.1 L1151.2,1301.1 L1151.2,1303.0 L1153.0,1302.5 L1154.8,1302.5 L1154.8,1302.4 L1156.5,1302.4 L1156.5,1303.1 L1158.2,1303.1 L1158.2,1304.5 L1160.0,1303.5 L1161.7,1303.5 L1161.7,1301.3 L1163.3,1301.3 L1163.3,1302.0 L1165.0,1302.0 L1165.0,1302.9 L1166.7,1302.9 L1166.7,1302.2 L1168.3,1302.2 L1168.3,1304.4 L1170.0,1304.4 L1170.0,1304.1 L1171.7,1304.1 L1171.7,1304.3 L1173.3,1304.3 L1173.3,1302.2 L1175.0,1304.3 L1176.7,1304.3 L1176.7,1305.0 L1178.3,1305.0 L1178.3,1302.7 L1180.0,1302.7 L1180.0,1302.4 L1181.7,1302.4 L1181.7,1304.0 L1183.3,1304.0 L1183.3,1305.1 L1185.0,1303.5 L1186.6,1303.5 L1186.6,1302.0 L1188.2,1302.0 L1188.2,1303.3 L1189.8,1303.3 L1189.8,1300.0 L1191.4,1300.0 L1191.4,1302.0 L1193.0,1301.0 L1194.8,1301.0 L1194.8,1301.0 L1196.5,1301.0 L1196.5,1297.8 L1198.2,1297.8 L1198.2,1298.0 L1200.0,1297.6 L1202.4,1294.2 M1214.0,1279.1 L1215.8,1279.1 M1215.8,1283.0 L1217.5,1285.8 L1219.2,1285.8 L1219.2,1282.5 L1221.0,1282.5 L1223.2,1282.5 M1223.2,1278.8 L1225.5,1276.6 L1227.2,1276.6 M1227.2,1281.3 L1229.0,1282.5 L1231.0,1282.5 M1231.0,1287.0 L1233.0,1287.0 L1233.0,1286.1 M1235.0,1290.9 L1236.8,1290.9 L1236.8,1292.8 L1238.5,1292.8 L1238.5,1293.9 L1240.2,1293.9 L1240.2,1294.3 L1242.0,1295.9 L1243.6,1295.9 L1243.6,1298.2 L1245.2,1298.2 L1245.2,1299.4 L1246.8,1299.4 L1246.8,1297.4 L1248.4,1297.4 L1248.4,1299.3 L1250.0,1299.3 L1251.6,1299.3 L1251.6,1301.7 L1253.2,1301.7 L1253.2,1300.8 L1254.8,1300.8 M1254.8,1306.1 L1256.4,1306.1 M1256.4,1302.3 L1258.0,1304.3 L1259.7,1304.3 L1259.7,1305.7 L1261.4,1305.7 L1261.4,1306.1 L1263.1,1306.1 L1263.1,1306.0 L1264.9,1306.0 L1264.9,1308.4 L1266.6,1308.4 L1266.6,1308.2 L1268.3,1308.2 L1268.3,1306.5 L1270.0,1308.5 L1271.6,1308.5 L1271.6,1306.0 L1273.2,1306.0 L1273.2,1308.3 L1274.9,1308.3 L1274.9,1310.4 L1276.5,1310.4 L1276.5,1309.7 L1278.1,1309.7 L1278.1,1311.2 L1279.8,1311.2 L1279.8,1311.0 L1281.4,1311.0 L1281.4,1309.2 M1283.0,1312.7 L1284.7,1312.7 L1284.7,1312.8 L1286.4,1312.8 L1286.4,1311.9 L1288.1,1311.9 L1288.1,1313.3 L1289.8,1313.3 L1289.8,1312.7 L1291.5,1312.7 L1291.5,1312.6 L1293.2,1312.6 L1293.2,1313.7 L1294.9,1313.7 L1294.9,1313.1 L1296.6,1313.1 L1296.6,1314.2 L1298.3,1314.2 L1298.3,1310.7 L1300.0,1313.5 L1301.7,1313.5 L1301.7,1316.2 L1303.4,1316.2 L1303.4,1314.4 L1305.1,1314.4 L1305.1,1313.0 L1306.9,1313.0 L1306.9,1310.6 L1308.6,1310.6 L1308.6,1313.9 L1310.3,1313.9 L1310.3,1313.8 L1312.0,1312.7 L1314.0,1312.7 M1314.0,1308.9 L1316.0,1307.7 M1319.0,1297.6 L1320.8,1297.6 L1320.8,1296.0 L1322.5,1295.1 M1325.0,1301.0 L1326.7,1301.0 M1326.7,1305.7 L1328.3,1305.7 L1328.3,1308.9 M1330.0,1312.7 L1331.7,1312.7 L1331.7,1311.7 L1333.3,1311.7 L1333.3,1312.3 L1335.0,1312.3 M1335.0,1316.5 L1336.7,1316.5 L1336.7,1314.3 L1338.3,1314.3 L1338.3,1311.3 L1340.0,1314.4 L1341.7,1314.4 L1341.7,1314.2 L1343.4,1314.2 L1343.4,1313.8 L1345.1,1313.8 L1345.1,1315.7 L1346.9,1315.7 L1346.9,1312.8 L1348.6,1312.8 L1348.6,1314.2 L1350.3,1314.2 L1350.3,1313.2 L1352.0,1311.8 L1354.0,1311.8 L1354.0,1308.8 L1356.0,1308.8 L1356.0,1307.1 L1358.0,1306.0 L1360.0,1306.0 L1360.0,1307.0 L1362.0,1309.3 L1363.7,1309.3 M1363.7,1313.2 L1365.3,1313.2 M1365.3,1317.2 L1367.0,1316.9 L1369.0,1316.9 L1369.0,1317.1 L1371.0,1317.1 M1371.0,1320.9 L1373.0,1321.1 L1374.7,1321.1 L1374.7,1321.4 L1376.4,1321.4 L1376.4,1321.9 L1378.1,1321.9 L1378.1,1321.2 L1379.8,1321.2 M1379.8,1324.8 L1381.5,1323.6" fill="none" stroke="#e30d0d" stroke-width="2.1" stroke-linejoin="round" stroke-dasharray="3.2 11.9 3.8 5.7 1.5 8.5 2.5 13.7 3.9 11.2 3.5 11.9 2.0 9.3 2.1 14.9 1.7 13.8 1.8 12.2 2.7 8.9 4.4 4.2 1.7 15.0 3.3 5.1 5.0 15.4 1.9 9.1 2.0 7.8 3.7 6.0 3.9 4.6 2.1 13.8 2.9 9.0 3.6 9.7 2.8 4.4 4.0 15.6 4.9 12.0 2.7 8.4 3.9 12.1 1.9 6.8 2.8 10.1 4.3 10.0 1.6 13.9 3.0 10.2 2.3 9.1 2.9 13.3 1.9 10.6 2.1 12.4 1.6 7.3 2.7 11.6 1.7 9.5 2.2 7.4 3.2 15.5 3.2 15.5 2.1 15.1 2.8 6.3 4.1 14.9 1.5 7.2 4.2 8.1 2.3 4.1 1.6 11.4 4.9 16.0 3.3 4.3 2.6 13.4 4.4 11.7 2.3 10.3 3.2 11.5 2.4 15.4 4.6 5.9 2.5 14.5 2.5 15.3 3.3 12.4 4.0 6.6 2.5 7.1 3.9 12.3 2.0 14.6 3.0 6.9 3.0 15.8 3.5 11.5 4.7 15.5 4.2 9.0 3.6 14.8 4.3 11.0 2.7 8.4 4.1 10.8 1.6 12.5 4.7 13.6 4.6 14.9 3.4 13.5 2.8 5.2 2.7 7.7 4.8 12.3 3.4 11.5 1.9 10.4 4.0 8.7 2.4 8.9 2.6 12.2 2.0 5.1 2.6 12.3 4.2 11.9 4.8 8.4 1.6 9.9 3.1 6.2 3.8 8.1 2.3 7.9 4.8 4.1 2.8 7.4 2.2 9.2 2.3 15.0 3.3 12.4 2.1 9.6 3.6 14.1 2.4 9.5 4.5 14.0 2.3 10.5 4.2 8.7 3.9 12.0 4.9 10.6 3.9 8.2 4.1 7.9 3.2 8.3 2.6 5.6 2.3 10.5 2.4 4.6 4.3 7.4 4.8 11.2 2.9 14.5 4.6 7.9 1.9 11.7 4.4 11.3 4.2 8.9 3.7 7.2 2.9 8.6 2.8 8.8 4.3 6.0 2.2 7.1 4.9 10.3 1.7 14.0 4.6 13.9 2.8 12.8 2.6 5.6 4.5 14.0 2.2 14.6 1.6 7.7 1.5 6.1 2.1 12.6 2.5 6.3 2.1 7.7 4.5 11.3 1.9 12.2 3.4 9.4 3.3 11.8 4.3 10.1 3.7 9.6 3.7 8.7 3.0 10.2 4.0 7.3 4.7 9.9 4.5 12.3 4.8 12.2 3.0 8.9 3.6 13.0 4.4 5.6 1.7 5.3 1.8 4.7 1.5 7.0 1.9 12.2 3.7 15.6 4.9 13.0 4.8 4.3 2.3 15.1 3.2 6.5 4.1 9.1 3.4 7.8 2.3 5.0 3.6 15.4 5.0 13.2 4.8 8.3 2.5 15.1 3.6 12.0 1.5 6.7 3.2 12.8 4.4 13.1 2.7 8.6 4.5 15.9 3.2 6.3 3.7 10.4 2.8 6.8 2.8 11.3 1.9 10.5 4.8 12.9 2.4 9.0 1.9 12.8 3.7 6.1 3.4 11.2 3.5 8.5 2.6 8.3 5.0 8.0 3.3 9.5 2.1 8.8 2.2 7.9 2.8 8.2 4.8 7.6 2.7 11.9 2.9 10.2 3.8 4.9 3.9 5.2 2.4 13.7 5.0 12.1 2.1 9.3 2.5 14.1 2.3 6.4 3.7 11.6 3.6 9.7 4.9 9.5 4.8 8.7 3.1 8.3 4.0 13.0 2.3 10.3 4.0 10.0 3.8 11.4 4.0 8.3 2.6 4.3 4.6 13.5 2.9 15.6 4.7 5.8 4.4 9.1 2.6 7.1 2.9 4.6 1.7 5.4 2.6 5.9 1.9 14.0 2.8 9.9 3.6 15.2 2.0 6.7 4.5 14.9 4.8 10.3 2.8 6.3 4.7 13.2 3.4 13.5 2.4 10.4 4.7 5.3 3.7 6.2 4.4 14.1 3.8 9.2 1.6 9.9 2.8 8.8 1.8 15.0 3.3 10.7 4.4 14.8 3.4 10.5 4.5 8.5 4.7 4.3 4.3 10.3 3.7 15.9 2.3 8.9 4.3 13.0 3.3 13.3 3.9 14.4 3.8 8.4 2.5 5.0 1.9 4.5 4.9 5.7 3.6 5.6 4.9 10.4 2.1 13.9 4.5 15.7 2.3 8.8 3.8 7.4 3.5 12.4 4.1 13.9 4.1 7.4 4.1 9.2 2.1 4.2 3.7 8.3 1.8 9.9 3.0 7.9 3.5 10.5 3.4 15.8 4.7 7.6 4.6 7.8 4.8 4.7 2.6 15.2 3.8 12.5 2.2 5.5 4.9 4.8 2.1 9.2 4.4 12.2 5.0 13.4 3.0 14.9 2.6 4.6 4.9 14.6 3.8 9.8 2.2 6.6 1.7 5.1 3.2 14.8 4.8 10.2 3.9 9.6 4.2 12.5 4.9 14.1 3.9 11.1 2.1 9.7 3.1 5.9 2.2 8.9 2.1 11.5 2.6 15.9 3.9 10.2 3.0 8.7 2.2 15.6 4.7 11.8 3.8 5.7 3.4 6.0" stroke-linecap="round"/>
<line x1="213.5" y1="1059.7" x2="213.5" y2="1073.6" stroke="#e30d0d" stroke-width="3.2"/>
<line x1="349.2" y1="948.4" x2="349.2" y2="985.8" stroke="#e30d0d" stroke-width="4.2"/>
<line x1="389.6" y1="961" x2="389.6" y2="978.8" stroke="#e30d0d" stroke-width="3.6"/>
<line x1="1073.2" y1="1217.7" x2="1073.2" y2="1237.4" stroke="#e30d0d" stroke-width="3.0"/>
<path d="M155,30 V669.5 H1367 V30" fill="none" stroke="#000" stroke-width="2.2"/>
<line x1="154" y1="30" x2="1368" y2="30" stroke="#484848" stroke-width="2"/>
<rect x="177" y="815.5" width="1205.5" height="638.5" fill="none" stroke="#000" stroke-width="2.6"/>
<line x1="141" y1="665" x2="155" y2="665" stroke="#000" stroke-width="2"/>
<line x1="141" y1="412.2" x2="155" y2="412.2" stroke="#000" stroke-width="2"/>
<line x1="141" y1="156.8" x2="155" y2="156.8" stroke="#000" stroke-width="2"/>
<line x1="155.0" y1="669.5" x2="155.0" y2="686.5" stroke="#000" stroke-width="2"/>
<line x1="235.8" y1="669.5" x2="235.8" y2="674.0" stroke="#000" stroke-width="2"/>
<line x1="316.6" y1="669.5" x2="316.6" y2="674.0" stroke="#000" stroke-width="2"/>
<line x1="397.4" y1="669.5" x2="397.4" y2="674.0" stroke="#000" stroke-width="2"/>
<line x1="478.2" y1="669.5" x2="478.2" y2="674.0" stroke="#000" stroke-width="2"/>
<line x1="559.0" y1="669.5" x2="559.0" y2="686.5" stroke="#000" stroke-width="2"/>
<line x1="639.8" y1="669.5" x2="639.8" y2="674.0" stroke="#000" stroke-width="2"/>
<line x1="720.6" y1="669.5" x2="720.6" y2="674.0" stroke="#000" stroke-width="2"/>
<line x1="801.4" y1="669.5" x2="801.4" y2="674.0" stroke="#000" stroke-width="2"/>
<line x1="882.1999999999999" y1="669.5" x2="882.1999999999999" y2="674.0" stroke="#000" stroke-width="2"/>
<line x1="963.0" y1="669.5" x2="963.0" y2="686.5" stroke="#000" stroke-width="2"/>
<line x1="1043.8" y1="669.5" x2="1043.8" y2="674.0" stroke="#000" stroke-width="2"/>
<line x1="1124.6" y1="669.5" x2="1124.6" y2="674.0" stroke="#000" stroke-width="2"/>
<line x1="1205.3999999999999" y1="669.5" x2="1205.3999999999999" y2="674.0" stroke="#000" stroke-width="2"/>
<line x1="1286.2" y1="669.5" x2="1286.2" y2="674.0" stroke="#000" stroke-width="2"/>
<line x1="1367.0" y1="669.5" x2="1367.0" y2="686.5" stroke="#000" stroke-width="2"/>
<line x1="162.8" y1="1449.7" x2="177" y2="1449.7" stroke="#000" stroke-width="2"/>
<line x1="162.8" y1="1132.8" x2="177" y2="1132.8" stroke="#000" stroke-width="2"/>
<line x1="162.8" y1="815.9" x2="177" y2="815.9" stroke="#000" stroke-width="2"/>
<line x1="177.0" y1="1454" x2="177.0" y2="1469.5" stroke="#000" stroke-width="2"/>
<line x1="257.37" y1="1454" x2="257.37" y2="1458.5" stroke="#000" stroke-width="2"/>
<line x1="337.74" y1="1454" x2="337.74" y2="1458.5" stroke="#000" stroke-width="2"/>
<line x1="418.11" y1="1454" x2="418.11" y2="1458.5" stroke="#000" stroke-width="2"/>
<line x1="498.48" y1="1454" x2="498.48" y2="1458.5" stroke="#000" stroke-width="2"/>
<line x1="578.85" y1="1454" x2="578.85" y2="1469.5" stroke="#000" stroke-width="2"/>
<line x1="659.22" y1="1454" x2="659.22" y2="1458.5" stroke="#000" stroke-width="2"/>
<line x1="739.59" y1="1454" x2="739.59" y2="1458.5" stroke="#000" stroke-width="2"/>
<line x1="819.96" y1="1454" x2="819.96" y2="1458.5" stroke="#000" stroke-width="2"/>
<line x1="900.33" y1="1454" x2="900.33" y2="1458.5" stroke="#000" stroke-width="2"/>
<line x1="980.7" y1="1454" x2="980.7" y2="1469.5" stroke="#000" stroke-width="2"/>
<line x1="1061.0700000000002" y1="1454" x2="1061.0700000000002" y2="1458.5" stroke="#000" stroke-width="2"/>
<line x1="1141.44" y1="1454" x2="1141.44" y2="1458.5" stroke="#000" stroke-width="2"/>
<line x1="1221.81" y1="1454" x2="1221.81" y2="1458.5" stroke="#000" stroke-width="2"/>
<line x1="1302.18" y1="1454" x2="1302.18" y2="1458.5" stroke="#000" stroke-width="2"/>
<line x1="1382.5500000000002" y1="1454" x2="1382.5500000000002" y2="1469.5" stroke="#000" stroke-width="2"/>
<line x1="156" y1="44.3" x2="214" y2="44.3" stroke="#b03030" stroke-width="2"/>
<line x1="156" y1="72.1" x2="214" y2="72.1" stroke="#222" stroke-width="2"/>
<text x="219.77" y="55.00" font-size="23.45" textLength="227.69" lengthAdjust="spacingAndGlyphs" fill="#1a1a2a" stroke="#1a1a2a" stroke-width="0.45" >Mooloite_A_p12_ns_0</text>
<text x="219.77" y="80.90" font-size="22.21" textLength="227.69" lengthAdjust="spacingAndGlyphs" fill="#1a1a2a" stroke="#1a1a2a" stroke-width="0.45" >Mooloite_B_p12_ns_0</text>
<line x1="178" y1="829.9" x2="235.3" y2="829.9" stroke="#d04040" stroke-width="1.6"/>
<line x1="178" y1="857.7" x2="235.3" y2="857.7" stroke="#333" stroke-width="2"/>
<text x="241.18" y="840.40" font-size="24.41" textLength="226.37" lengthAdjust="spacingAndGlyphs" fill="#1a1a2a" stroke="#1a1a2a" stroke-width="0.45" >Mooloite_A_p12_ns_0</text>
<text x="241.18" y="866.60" font-size="22.34" textLength="226.37" lengthAdjust="spacingAndGlyphs" fill="#1a1a2a" stroke="#1a1a2a" stroke-width="0.45" >Mooloite_B_p12_ns_0</text>
<text x="3.22" y="24.30" font-size="25.57" textLength="68.20" lengthAdjust="spacingAndGlyphs" fill="#111" stroke="#111" stroke-width="0.45" >Counts</text>
<text x="72.56" y="168.00" font-size="25.71" textLength="61.23" lengthAdjust="spacingAndGlyphs" fill="#333" stroke="#333" stroke-width="0.45" >40000</text>
<text x="71.89" y="423.50" font-size="25.71" textLength="61.91" lengthAdjust="spacingAndGlyphs" fill="#000" stroke="#000" stroke-width="0.45" >20000</text>
<text x="121.08" y="676.60" font-size="25.71" textLength="12.86" lengthAdjust="spacingAndGlyphs" fill="#000" stroke="#000" stroke-width="0.45" >0</text>
<text x="147.99" y="708.60" font-size="24.93" textLength="14.05" lengthAdjust="spacingAndGlyphs" fill="#000" stroke="#000" stroke-width="0.45" >5</text>
<text x="546.49" y="708.90" font-size="25.00" textLength="25.36" lengthAdjust="spacingAndGlyphs" fill="#000" stroke="#000" stroke-width="0.45" >10</text>
<text x="950.27" y="708.90" font-size="25.36" textLength="25.71" lengthAdjust="spacingAndGlyphs" fill="#000" stroke="#000" stroke-width="0.45" >15</text>
<text x="1353.88" y="708.90" font-size="25.00" textLength="24.96" lengthAdjust="spacingAndGlyphs" fill="#000" stroke="#000" stroke-width="0.45" >20</text>
<text x="640.14" y="744.70" font-size="26.09" textLength="307.77" lengthAdjust="spacingAndGlyphs" fill="#222" stroke="#222" stroke-width="0.45" >Position [°2Theta] (0.68816 [Å])</text>
<text x="24.62" y="810.00" font-size="25.00" textLength="68.51" lengthAdjust="spacingAndGlyphs" fill="#111" stroke="#111" stroke-width="0.45" >Counts</text>
<text x="94.32" y="826.00" font-size="25.00" textLength="60.26" lengthAdjust="spacingAndGlyphs" fill="#000" stroke="#000" stroke-width="0.45" >20000</text>
<text x="95.69" y="1143.70" font-size="25.71" textLength="59.57" lengthAdjust="spacingAndGlyphs" fill="#000" stroke="#000" stroke-width="0.45" >10000</text>
<text x="143.12" y="1460.50" font-size="25.00" textLength="12.17" lengthAdjust="spacingAndGlyphs" fill="#000" stroke="#000" stroke-width="0.45" >0</text>
<text x="163.33" y="1493.00" font-size="25.71" textLength="26.05" lengthAdjust="spacingAndGlyphs" fill="#000" stroke="#000" stroke-width="0.45" >20</text>
<text x="566.53" y="1492.70" font-size="25.71" textLength="23.88" lengthAdjust="spacingAndGlyphs" fill="#000" stroke="#000" stroke-width="0.45" >25</text>
<text x="967.63" y="1492.70" font-size="25.71" textLength="24.18" lengthAdjust="spacingAndGlyphs" fill="#000" stroke="#000" stroke-width="0.45" >30</text>
<text x="1369.46" y="1492.90" font-size="26.57" textLength="26.13" lengthAdjust="spacingAndGlyphs" fill="#000" stroke="#000" stroke-width="0.45" >35</text>
<text x="658.85" y="1528.60" font-size="24.20" textLength="305.14" lengthAdjust="spacingAndGlyphs" fill="#222" stroke="#222" stroke-width="0.45" >Position [°2Theta] (0.68816 [Å])</text>
<text x="212.59" y="602.80" font-size="41.13" textLength="179.62" lengthAdjust="spacingAndGlyphs" fill="#ff0000" stroke="#ff0000" stroke-width="0.45" >Moolooite</text>
<text x="402.20" y="602.80" font-size="41.13" textLength="27.78" lengthAdjust="spacingAndGlyphs" fill="#ff0000" stroke="#ff0000" stroke-width="0.45" >A</text>
<text x="444.16" y="602.80" font-size="41.13" textLength="111.77" lengthAdjust="spacingAndGlyphs" fill="#ff0000" stroke="#ff0000" stroke-width="0.45" >above</text>
<text x="213.89" y="654.60" font-size="41.57" textLength="179.62" lengthAdjust="spacingAndGlyphs" fill="#000" stroke="#000" stroke-width="0.45" >Moolooite</text>
<text x="406.74" y="654.60" font-size="41.57" textLength="28.05" lengthAdjust="spacingAndGlyphs" fill="#000" stroke="#000" stroke-width="0.45" >B</text>
<text x="447.07" y="654.60" font-size="41.57" textLength="105.64" lengthAdjust="spacingAndGlyphs" fill="#000" stroke="#000" stroke-width="0.45" >below</text>
<text x="219.76" y="1386.20" font-size="42.15" textLength="186.42" lengthAdjust="spacingAndGlyphs" fill="#ff0000" stroke="#ff0000" stroke-width="0.45" >Moolooite</text>
<text x="412.20" y="1386.20" font-size="42.15" textLength="27.78" lengthAdjust="spacingAndGlyphs" fill="#ff0000" stroke="#ff0000" stroke-width="0.45" >A</text>
<text x="447.46" y="1386.20" font-size="42.15" textLength="118.59" lengthAdjust="spacingAndGlyphs" fill="#ff0000" stroke="#ff0000" stroke-width="0.45" >above</text>
<text x="222.46" y="1435.70" font-size="41.13" textLength="186.42" lengthAdjust="spacingAndGlyphs" fill="#000" stroke="#000" stroke-width="0.45" >Moolooite</text>
<text x="416.54" y="1435.70" font-size="41.13" textLength="29.67" lengthAdjust="spacingAndGlyphs" fill="#000" stroke="#000" stroke-width="0.45" >B</text>
<text x="451.64" y="1435.70" font-size="41.13" textLength="111.07" lengthAdjust="spacingAndGlyphs" fill="#000" stroke="#000" stroke-width="0.45" >below</text>
<text x="639.72" y="83.80" font-size="22.38" textLength="39.78" lengthAdjust="spacingAndGlyphs" fill="#000" stroke="#000" stroke-width="0.45" >Max</text>
<text x="685.09" y="83.80" font-size="22.38" textLength="29.09" lengthAdjust="spacingAndGlyphs" fill="#000" stroke="#000" stroke-width="0.45" >(A)</text>
<text x="716.78" y="83.80" font-size="22.38" textLength="13.12" lengthAdjust="spacingAndGlyphs" fill="#000" stroke="#000" stroke-width="0.45" >=</text>
<text x="736.18" y="83.80" font-size="22.38" textLength="84.22" lengthAdjust="spacingAndGlyphs" fill="#000" stroke="#000" stroke-width="0.45" >143,540,</text>
<text x="825.02" y="83.80" font-size="22.38" textLength="39.78" lengthAdjust="spacingAndGlyphs" fill="#000" stroke="#000" stroke-width="0.45" >Max</text>
<text x="870.99" y="83.80" font-size="22.38" textLength="29.09" lengthAdjust="spacingAndGlyphs" fill="#000" stroke="#000" stroke-width="0.45" >(B)</text>
<text x="902.74" y="83.80" font-size="22.38" textLength="12.40" lengthAdjust="spacingAndGlyphs" fill="#000" stroke="#000" stroke-width="0.45" >=</text>
<text x="920.95" y="83.80" font-size="22.38" textLength="65.17" lengthAdjust="spacingAndGlyphs" fill="#000" stroke="#000" stroke-width="0.45" >56,500</text>
<line x1="630.8" y1="75.3" x2="589" y2="45.4" stroke="#111" stroke-width="1.2"/>
<line x1="589" y1="45.4" x2="605.6" y2="47.6" stroke="#111" stroke-width="1.2"/>
<line x1="589" y1="45.4" x2="597.7" y2="61.2" stroke="#111" stroke-width="1.2"/>
<text transform="translate(555.00,150.69) rotate(-90)" x="0" y="0" font-size="26.57" textLength="40.15" lengthAdjust="spacingAndGlyphs" fill="#000" stroke="#000" stroke-width="0.45">110</text>
<text transform="translate(890.10,443.23) rotate(-90)" x="0" y="0" font-size="26.43" textLength="42.81" lengthAdjust="spacingAndGlyphs" fill="#000" stroke="#000" stroke-width="0.45">020</text>
<text transform="translate(1038.60,360.45) rotate(-90)" x="0" y="0" font-size="26.71" textLength="43.46" lengthAdjust="spacingAndGlyphs" fill="#000" stroke="#000" stroke-width="0.45">120</text>
<text transform="translate(1093.50,509.23) rotate(-90)" x="0" y="0" font-size="26.43" textLength="41.18" lengthAdjust="spacingAndGlyphs" fill="#000" stroke="#000" stroke-width="0.45">210</text>
<text transform="translate(1129.00,452.98) rotate(-90)" x="0" y="0" font-size="28.57" textLength="39.07" lengthAdjust="spacingAndGlyphs" fill="#000" stroke="#000" stroke-width="0.45">011</text>
<text transform="translate(1150.40,383.35) rotate(-90)" x="0" y="0" font-size="27.71" textLength="38.88" lengthAdjust="spacingAndGlyphs" fill="#000" stroke="#000" stroke-width="0.45">101</text>
<text transform="translate(1267.00,453.93) rotate(-90)" x="0" y="0" font-size="26.09" textLength="39.09" lengthAdjust="spacingAndGlyphs" fill="#000" stroke="#000" stroke-width="0.45">111</text>
<text x="596.46" y="378.00" font-size="20.29" textLength="14.52" lengthAdjust="spacingAndGlyphs" fill="#000" stroke="#000" stroke-width="0.45" >X</text>
<text x="702.18" y="428.60" font-size="23.33" textLength="13.99" lengthAdjust="spacingAndGlyphs" fill="#000" stroke="#000" stroke-width="0.45" >X</text>
<text x="672.44" y="530.00" font-size="21.74" textLength="15.06" lengthAdjust="spacingAndGlyphs" fill="#000" stroke="#000" stroke-width="0.45" >X</text>
<text x="776.20" y="562.00" font-size="23.19" textLength="15.92" lengthAdjust="spacingAndGlyphs" fill="#000" stroke="#000" stroke-width="0.45" >X</text>
<text transform="translate(229.00,1037.76) rotate(-90)" x="0" y="0" font-size="29.14" textLength="42.14" lengthAdjust="spacingAndGlyphs" fill="#000" stroke="#000" stroke-width="0.45">220</text>
<text transform="translate(329.30,1029.98) rotate(-90)" x="0" y="0" font-size="29.29" textLength="98.39" lengthAdjust="spacingAndGlyphs" fill="#000" stroke="#000" stroke-width="0.45">121+130</text>
<text transform="translate(431.40,961.64) rotate(-90)" x="0" y="0" font-size="29.14" textLength="39.54" lengthAdjust="spacingAndGlyphs" fill="#000" stroke="#000" stroke-width="0.45">211</text>
<text transform="translate(472.10,1238.99) rotate(-90)" x="0" y="0" font-size="26.57" textLength="41.35" lengthAdjust="spacingAndGlyphs" fill="#000" stroke="#000" stroke-width="0.45">310</text>
<text transform="translate(646.00,1244.44) rotate(-90)" x="0" y="0" font-size="26.57" textLength="44.78" lengthAdjust="spacingAndGlyphs" fill="#000" stroke="#000" stroke-width="0.45">230</text>
<text transform="translate(679.90,1173.68) rotate(-90)" x="0" y="0" font-size="29.43" textLength="40.76" lengthAdjust="spacingAndGlyphs" fill="#000" stroke="#000" stroke-width="0.45">031</text>
<text transform="translate(785.30,1234.07) rotate(-90)" x="0" y="0" font-size="27.57" textLength="40.66" lengthAdjust="spacingAndGlyphs" fill="#000" stroke="#000" stroke-width="0.45">301</text>
<text x="891.33" y="1258.90" font-size="27.97" textLength="17.97" lengthAdjust="spacingAndGlyphs" fill="#000" stroke="#000" stroke-width="0.45" >X</text>
<text transform="translate(1005.30,1247.66) rotate(-90)" x="0" y="0" font-size="28.14" textLength="41.98" lengthAdjust="spacingAndGlyphs" fill="#000" stroke="#000" stroke-width="0.45">231</text>
<text transform="translate(1053.10,1219.33) rotate(-90)" x="0" y="0" font-size="28.14" textLength="158.92" lengthAdjust="spacingAndGlyphs" fill="#000" stroke="#000" stroke-width="0.45">321+330+410</text>
<text transform="translate(1088.40,1213.16) rotate(-90)" x="0" y="0" font-size="28.14" textLength="44.07" lengthAdjust="spacingAndGlyphs" fill="#000" stroke="#000" stroke-width="0.45">002</text>
<text transform="translate(1149.70,1247.72) rotate(-90)" x="0" y="0" font-size="26.71" textLength="43.93" lengthAdjust="spacingAndGlyphs" fill="#000" stroke="#000" stroke-width="0.45">240</text>
<text transform="translate(1216.00,1162.52) rotate(-90)" x="0" y="0" font-size="26.43" textLength="42.84" lengthAdjust="spacingAndGlyphs" fill="#000" stroke="#000" stroke-width="0.45">112</text>
<text transform="translate(1251.90,1236.75) rotate(-90)" x="0" y="0" font-size="26.67" textLength="38.88" lengthAdjust="spacingAndGlyphs" fill="#000" stroke="#000" stroke-width="0.45">141</text>
<text transform="translate(1275.50,1262.68) rotate(-90)" x="0" y="0" font-size="26.29" textLength="40.00" lengthAdjust="spacingAndGlyphs" fill="#000" stroke="#000" stroke-width="0.45">420</text>
<text transform="translate(1331.60,1266.68) rotate(-90)" x="0" y="0" font-size="27.43" textLength="40.89" lengthAdjust="spacingAndGlyphs" fill="#000" stroke="#000" stroke-width="0.45">022</text>
<text transform="translate(1374.60,1276.32) rotate(-90)" x="0" y="0" font-size="26.29" textLength="155.55" lengthAdjust="spacingAndGlyphs" fill="#000" stroke="#000" stroke-width="0.45">331+202+411</text>
<line x1="1238.7" y1="1248.1" x2="1235.2" y2="1266.5" stroke="#000" stroke-width="1.3"/>
<line x1="1260.6" y1="1267.4" x2="1251.9" y2="1295.5" stroke="#000" stroke-width="1.3"/>
</svg>
</body></html>
